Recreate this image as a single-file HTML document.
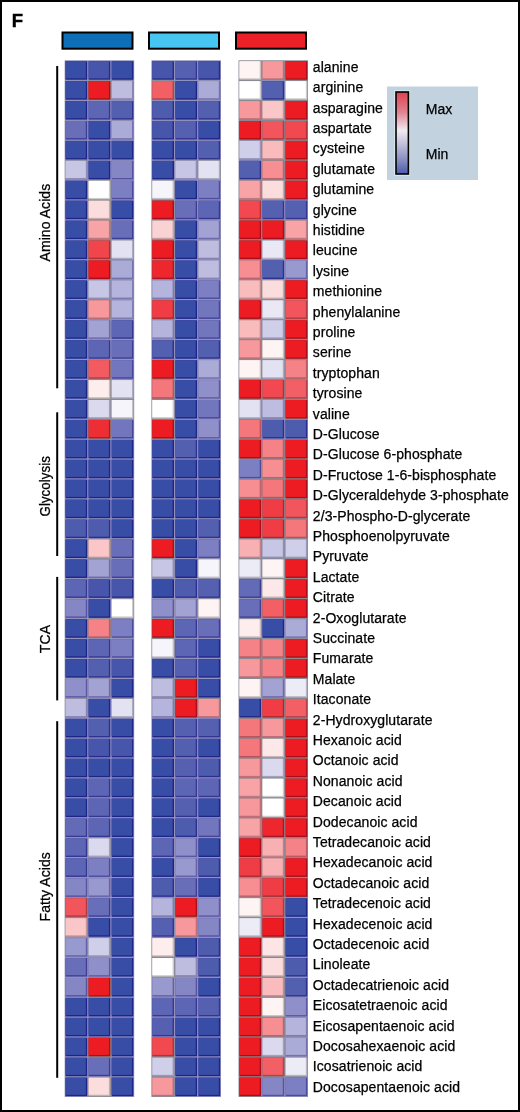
<!DOCTYPE html>
<html><head><meta charset="utf-8">
<style>
html,body{margin:0;padding:0;background:#fff;}
body{width:520px;height:1112px;overflow:hidden;position:relative;}
svg{position:absolute;left:0;top:0;will-change:transform;}
text{font-family:"Liberation Sans",sans-serif;letter-spacing:0.08px;}
</style></head>
<body>
<svg width="520" height="1112" viewBox="0 0 520 1112">
<defs>
<linearGradient id="lg" x1="0" y1="0" x2="0" y2="1">
<stop offset="0" stop-color="#e0404f"/>
<stop offset="0.25" stop-color="#de8592"/>
<stop offset="0.47" stop-color="#f1eaf1"/>
<stop offset="0.66" stop-color="#babad6"/>
<stop offset="0.85" stop-color="#8088bf"/>
<stop offset="1" stop-color="#4c5cae"/>
</linearGradient>
<filter id="soft" x="-2%" y="-1%" width="104%" height="102%"><feGaussianBlur stdDeviation="0.35"/></filter>
</defs>
<rect x="1" y="1" width="518" height="1110" fill="#fff" stroke="#000" stroke-width="2"/>
<text x="0" y="0" transform="translate(11.8,27)" style="font-size:18.5px;font-weight:700" fill="#000" stroke="#000" stroke-width="0.45">F</text>
<rect x="62.5" y="32.5" width="70" height="16.2" fill="#0f6fb6" stroke="#000" stroke-width="2"/>
<rect x="149" y="32.5" width="70" height="16.2" fill="#47c6f1" stroke="#000" stroke-width="2"/>
<rect x="236" y="32.5" width="70" height="16.2" fill="#ec2027" stroke="#000" stroke-width="2"/>
<g filter="url(#soft)">
<rect x="64.80" y="60.50" width="69.30" height="1036.36" fill="#9090a8"/>
<rect x="64.80" y="60.50" width="23.10" height="19.93" fill="#9491c4"/>
<rect x="65.50" y="61.20" width="21.70" height="18.53" fill="#1f2788"/>
<rect x="65.50" y="61.20" width="20.30" height="17.13" fill="#394ea6"/>
<rect x="87.90" y="60.50" width="23.10" height="19.93" fill="#9491c4"/>
<rect x="88.60" y="61.20" width="21.70" height="18.53" fill="#272c8c"/>
<rect x="88.60" y="61.20" width="20.30" height="17.13" fill="#4656ab"/>
<rect x="111.00" y="60.50" width="23.10" height="19.93" fill="#9491c4"/>
<rect x="111.70" y="61.20" width="21.70" height="18.53" fill="#1f2788"/>
<rect x="111.70" y="61.20" width="20.30" height="17.13" fill="#394ea6"/>
<rect x="64.80" y="80.43" width="23.10" height="19.93" fill="#9491c4"/>
<rect x="65.50" y="81.13" width="21.70" height="18.53" fill="#1f2788"/>
<rect x="65.50" y="81.13" width="20.30" height="17.13" fill="#394ea6"/>
<rect x="87.90" y="80.43" width="23.10" height="19.93" fill="#88888c"/>
<rect x="88.60" y="81.13" width="21.70" height="18.53" fill="#ab111a"/>
<rect x="88.60" y="81.13" width="20.30" height="17.13" fill="#ed1c24"/>
<rect x="111.00" y="80.43" width="23.10" height="19.93" fill="#8e8da9"/>
<rect x="111.70" y="81.13" width="21.70" height="18.53" fill="#8783b5"/>
<rect x="111.70" y="81.13" width="20.30" height="17.13" fill="#bebde0"/>
<rect x="64.80" y="100.36" width="23.10" height="19.93" fill="#9491c4"/>
<rect x="65.50" y="101.06" width="21.70" height="18.53" fill="#1f2788"/>
<rect x="65.50" y="101.06" width="20.30" height="17.13" fill="#394ea6"/>
<rect x="87.90" y="100.36" width="23.10" height="19.93" fill="#9491c4"/>
<rect x="88.60" y="101.06" width="21.70" height="18.53" fill="#363793"/>
<rect x="88.60" y="101.06" width="20.30" height="17.13" fill="#5d66b4"/>
<rect x="111.00" y="100.36" width="23.10" height="19.93" fill="#9491c4"/>
<rect x="111.70" y="101.06" width="21.70" height="18.53" fill="#2f328f"/>
<rect x="111.70" y="101.06" width="20.30" height="17.13" fill="#525eaf"/>
<rect x="64.80" y="120.29" width="23.10" height="19.93" fill="#9491c4"/>
<rect x="65.50" y="120.99" width="21.70" height="18.53" fill="#3e3e96"/>
<rect x="65.50" y="120.99" width="20.30" height="17.13" fill="#676eb8"/>
<rect x="87.90" y="120.29" width="23.10" height="19.93" fill="#9491c4"/>
<rect x="88.60" y="120.99" width="21.70" height="18.53" fill="#1f2788"/>
<rect x="88.60" y="120.99" width="20.30" height="17.13" fill="#394ea6"/>
<rect x="111.00" y="120.29" width="23.10" height="19.93" fill="#908eb2"/>
<rect x="111.70" y="120.99" width="21.70" height="18.53" fill="#7671ae"/>
<rect x="111.70" y="120.99" width="20.30" height="17.13" fill="#ababd7"/>
<rect x="64.80" y="140.22" width="23.10" height="19.93" fill="#9491c4"/>
<rect x="65.50" y="140.92" width="21.70" height="18.53" fill="#1f2788"/>
<rect x="65.50" y="140.92" width="20.30" height="17.13" fill="#394ea6"/>
<rect x="87.90" y="140.22" width="23.10" height="19.93" fill="#9491c4"/>
<rect x="88.60" y="140.92" width="21.70" height="18.53" fill="#1f2788"/>
<rect x="88.60" y="140.92" width="20.30" height="17.13" fill="#394ea6"/>
<rect x="111.00" y="140.22" width="23.10" height="19.93" fill="#9491c4"/>
<rect x="111.70" y="140.92" width="21.70" height="18.53" fill="#1f2788"/>
<rect x="111.70" y="140.92" width="20.30" height="17.13" fill="#394ea6"/>
<rect x="64.80" y="160.15" width="23.10" height="19.93" fill="#8d8ca5"/>
<rect x="65.50" y="160.85" width="21.70" height="18.53" fill="#908db8"/>
<rect x="65.50" y="160.85" width="20.30" height="17.13" fill="#c7c6e5"/>
<rect x="87.90" y="160.15" width="23.10" height="19.93" fill="#9491c4"/>
<rect x="88.60" y="160.85" width="21.70" height="18.53" fill="#1f2788"/>
<rect x="88.60" y="160.85" width="20.30" height="17.13" fill="#394ea6"/>
<rect x="111.00" y="160.15" width="23.10" height="19.93" fill="#9491c3"/>
<rect x="111.70" y="160.85" width="21.70" height="18.53" fill="#5552a1"/>
<rect x="111.70" y="160.85" width="20.30" height="17.13" fill="#8587c5"/>
<rect x="64.80" y="180.08" width="23.10" height="19.93" fill="#9491c4"/>
<rect x="65.50" y="180.78" width="21.70" height="18.53" fill="#1f2788"/>
<rect x="65.50" y="180.78" width="20.30" height="17.13" fill="#394ea6"/>
<rect x="87.90" y="180.08" width="23.10" height="19.93" fill="#88888c"/>
<rect x="88.60" y="180.78" width="21.70" height="18.53" fill="#cccccc"/>
<rect x="88.60" y="180.78" width="20.30" height="17.13" fill="#ffffff"/>
<rect x="111.00" y="180.08" width="23.10" height="19.93" fill="#9491c4"/>
<rect x="111.70" y="180.78" width="21.70" height="18.53" fill="#4d4b9d"/>
<rect x="111.70" y="180.78" width="20.30" height="17.13" fill="#7b7fc1"/>
<rect x="64.80" y="200.01" width="23.10" height="19.93" fill="#9491c4"/>
<rect x="65.50" y="200.71" width="21.70" height="18.53" fill="#1f2788"/>
<rect x="65.50" y="200.71" width="20.30" height="17.13" fill="#394ea6"/>
<rect x="87.90" y="200.01" width="23.10" height="19.93" fill="#88888c"/>
<rect x="88.60" y="200.71" width="21.70" height="18.53" fill="#c7abaf"/>
<rect x="88.60" y="200.71" width="20.30" height="17.13" fill="#fcddde"/>
<rect x="111.00" y="200.01" width="23.10" height="19.93" fill="#9491c4"/>
<rect x="111.70" y="200.71" width="21.70" height="18.53" fill="#1f2788"/>
<rect x="111.70" y="200.71" width="20.30" height="17.13" fill="#394ea6"/>
<rect x="64.80" y="219.94" width="23.10" height="19.93" fill="#9491c4"/>
<rect x="65.50" y="220.64" width="21.70" height="18.53" fill="#1f2788"/>
<rect x="65.50" y="220.64" width="20.30" height="17.13" fill="#394ea6"/>
<rect x="87.90" y="219.94" width="23.10" height="19.93" fill="#88888c"/>
<rect x="88.60" y="220.64" width="21.70" height="18.53" fill="#be7881"/>
<rect x="88.60" y="220.64" width="20.30" height="17.13" fill="#f8a4a7"/>
<rect x="111.00" y="219.94" width="23.10" height="19.93" fill="#9491c4"/>
<rect x="111.70" y="220.64" width="21.70" height="18.53" fill="#3e3e96"/>
<rect x="111.70" y="220.64" width="20.30" height="17.13" fill="#676eb8"/>
<rect x="64.80" y="239.87" width="23.10" height="19.93" fill="#9491c4"/>
<rect x="65.50" y="240.57" width="21.70" height="18.53" fill="#1f2788"/>
<rect x="65.50" y="240.57" width="20.30" height="17.13" fill="#394ea6"/>
<rect x="87.90" y="239.87" width="23.10" height="19.93" fill="#88888c"/>
<rect x="88.60" y="240.57" width="21.70" height="18.53" fill="#b02d37"/>
<rect x="88.60" y="240.57" width="20.30" height="17.13" fill="#f0454b"/>
<rect x="111.00" y="239.87" width="23.10" height="19.93" fill="#8b8a99"/>
<rect x="111.70" y="240.57" width="21.70" height="18.53" fill="#adabc2"/>
<rect x="111.70" y="240.57" width="20.30" height="17.13" fill="#e3e2f2"/>
<rect x="64.80" y="259.80" width="23.10" height="19.93" fill="#9491c4"/>
<rect x="65.50" y="260.50" width="21.70" height="18.53" fill="#1f2788"/>
<rect x="65.50" y="260.50" width="20.30" height="17.13" fill="#394ea6"/>
<rect x="87.90" y="259.80" width="23.10" height="19.93" fill="#88888c"/>
<rect x="88.60" y="260.50" width="21.70" height="18.53" fill="#ab111a"/>
<rect x="88.60" y="260.50" width="20.30" height="17.13" fill="#ed1c24"/>
<rect x="111.00" y="259.80" width="23.10" height="19.93" fill="#908eb2"/>
<rect x="111.70" y="260.50" width="21.70" height="18.53" fill="#7671ae"/>
<rect x="111.70" y="260.50" width="20.30" height="17.13" fill="#ababd7"/>
<rect x="64.80" y="279.73" width="23.10" height="19.93" fill="#9491c4"/>
<rect x="65.50" y="280.43" width="21.70" height="18.53" fill="#1f2788"/>
<rect x="65.50" y="280.43" width="20.30" height="17.13" fill="#394ea6"/>
<rect x="87.90" y="279.73" width="23.10" height="19.93" fill="#8d8ca5"/>
<rect x="88.60" y="280.43" width="21.70" height="18.53" fill="#908db8"/>
<rect x="88.60" y="280.43" width="20.30" height="17.13" fill="#c7c6e5"/>
<rect x="111.00" y="279.73" width="23.10" height="19.93" fill="#8f8dae"/>
<rect x="111.70" y="280.43" width="21.70" height="18.53" fill="#7e7ab2"/>
<rect x="111.70" y="280.43" width="20.30" height="17.13" fill="#b4b4dc"/>
<rect x="64.80" y="299.66" width="23.10" height="19.93" fill="#9491c4"/>
<rect x="65.50" y="300.36" width="21.70" height="18.53" fill="#1f2788"/>
<rect x="65.50" y="300.36" width="20.30" height="17.13" fill="#394ea6"/>
<rect x="87.90" y="299.66" width="23.10" height="19.93" fill="#88888c"/>
<rect x="88.60" y="300.36" width="21.70" height="18.53" fill="#bd6e78"/>
<rect x="88.60" y="300.36" width="20.30" height="17.13" fill="#f7999c"/>
<rect x="111.00" y="299.66" width="23.10" height="19.93" fill="#8f8dae"/>
<rect x="111.70" y="300.36" width="21.70" height="18.53" fill="#7e7ab2"/>
<rect x="111.70" y="300.36" width="20.30" height="17.13" fill="#b4b4dc"/>
<rect x="64.80" y="319.59" width="23.10" height="19.93" fill="#9491c4"/>
<rect x="65.50" y="320.29" width="21.70" height="18.53" fill="#1f2788"/>
<rect x="65.50" y="320.29" width="20.30" height="17.13" fill="#394ea6"/>
<rect x="87.90" y="319.59" width="23.10" height="19.93" fill="#918fb6"/>
<rect x="88.60" y="320.29" width="21.70" height="18.53" fill="#6d69ab"/>
<rect x="88.60" y="320.29" width="20.30" height="17.13" fill="#a2a2d3"/>
<rect x="111.00" y="319.59" width="23.10" height="19.93" fill="#9491c4"/>
<rect x="111.70" y="320.29" width="21.70" height="18.53" fill="#363793"/>
<rect x="111.70" y="320.29" width="20.30" height="17.13" fill="#5d66b4"/>
<rect x="64.80" y="339.52" width="23.10" height="19.93" fill="#9491c4"/>
<rect x="65.50" y="340.22" width="21.70" height="18.53" fill="#1f2788"/>
<rect x="65.50" y="340.22" width="20.30" height="17.13" fill="#394ea6"/>
<rect x="87.90" y="339.52" width="23.10" height="19.93" fill="#9491c4"/>
<rect x="88.60" y="340.22" width="21.70" height="18.53" fill="#363793"/>
<rect x="88.60" y="340.22" width="20.30" height="17.13" fill="#5d66b4"/>
<rect x="111.00" y="339.52" width="23.10" height="19.93" fill="#9491c4"/>
<rect x="111.70" y="340.22" width="21.70" height="18.53" fill="#3e3e96"/>
<rect x="111.70" y="340.22" width="20.30" height="17.13" fill="#676eb8"/>
<rect x="64.80" y="359.45" width="23.10" height="19.93" fill="#9491c4"/>
<rect x="65.50" y="360.15" width="21.70" height="18.53" fill="#1f2788"/>
<rect x="65.50" y="360.15" width="20.30" height="17.13" fill="#394ea6"/>
<rect x="87.90" y="359.45" width="23.10" height="19.93" fill="#88888c"/>
<rect x="88.60" y="360.15" width="21.70" height="18.53" fill="#b43d48"/>
<rect x="88.60" y="360.15" width="20.30" height="17.13" fill="#f25c61"/>
<rect x="111.00" y="359.45" width="23.10" height="19.93" fill="#9491c4"/>
<rect x="111.70" y="360.15" width="21.70" height="18.53" fill="#45449a"/>
<rect x="111.70" y="360.15" width="20.30" height="17.13" fill="#7176bd"/>
<rect x="64.80" y="379.38" width="23.10" height="19.93" fill="#9491c4"/>
<rect x="65.50" y="380.08" width="21.70" height="18.53" fill="#1f2788"/>
<rect x="65.50" y="380.08" width="20.30" height="17.13" fill="#394ea6"/>
<rect x="87.90" y="379.38" width="23.10" height="19.93" fill="#88888c"/>
<rect x="88.60" y="380.08" width="21.70" height="18.53" fill="#c9babc"/>
<rect x="88.60" y="380.08" width="20.30" height="17.13" fill="#feeded"/>
<rect x="111.00" y="379.38" width="23.10" height="19.93" fill="#8b8a99"/>
<rect x="111.70" y="380.08" width="21.70" height="18.53" fill="#adabc2"/>
<rect x="111.70" y="380.08" width="20.30" height="17.13" fill="#e3e2f2"/>
<rect x="64.80" y="399.31" width="23.10" height="19.93" fill="#9491c4"/>
<rect x="65.50" y="400.01" width="21.70" height="18.53" fill="#1f2788"/>
<rect x="65.50" y="400.01" width="20.30" height="17.13" fill="#394ea6"/>
<rect x="87.90" y="399.31" width="23.10" height="19.93" fill="#8c8b9d"/>
<rect x="88.60" y="400.01" width="21.70" height="18.53" fill="#a3a0bf"/>
<rect x="88.60" y="400.01" width="20.30" height="17.13" fill="#dad9ed"/>
<rect x="111.00" y="399.31" width="23.10" height="19.93" fill="#898990"/>
<rect x="111.70" y="400.01" width="21.70" height="18.53" fill="#c1c1c9"/>
<rect x="111.70" y="400.01" width="20.30" height="17.13" fill="#f6f5fb"/>
<rect x="64.80" y="419.24" width="23.10" height="19.93" fill="#9491c4"/>
<rect x="65.50" y="419.94" width="21.70" height="18.53" fill="#1f2788"/>
<rect x="65.50" y="419.94" width="20.30" height="17.13" fill="#394ea6"/>
<rect x="87.90" y="419.24" width="23.10" height="19.93" fill="#88888c"/>
<rect x="88.60" y="419.94" width="21.70" height="18.53" fill="#ad1d27"/>
<rect x="88.60" y="419.94" width="20.30" height="17.13" fill="#ee2e36"/>
<rect x="111.00" y="419.24" width="23.10" height="19.93" fill="#9491c4"/>
<rect x="111.70" y="419.94" width="21.70" height="18.53" fill="#45449a"/>
<rect x="111.70" y="419.94" width="20.30" height="17.13" fill="#7176bd"/>
<rect x="64.80" y="439.17" width="23.10" height="19.93" fill="#9491c4"/>
<rect x="65.50" y="439.87" width="21.70" height="18.53" fill="#1f2788"/>
<rect x="65.50" y="439.87" width="20.30" height="17.13" fill="#394ea6"/>
<rect x="87.90" y="439.17" width="23.10" height="19.93" fill="#9491c4"/>
<rect x="88.60" y="439.87" width="21.70" height="18.53" fill="#1f2788"/>
<rect x="88.60" y="439.87" width="20.30" height="17.13" fill="#394ea6"/>
<rect x="111.00" y="439.17" width="23.10" height="19.93" fill="#9491c4"/>
<rect x="111.70" y="439.87" width="21.70" height="18.53" fill="#1f2788"/>
<rect x="111.70" y="439.87" width="20.30" height="17.13" fill="#394ea6"/>
<rect x="64.80" y="459.10" width="23.10" height="19.93" fill="#9491c4"/>
<rect x="65.50" y="459.80" width="21.70" height="18.53" fill="#1f2788"/>
<rect x="65.50" y="459.80" width="20.30" height="17.13" fill="#394ea6"/>
<rect x="87.90" y="459.10" width="23.10" height="19.93" fill="#9491c4"/>
<rect x="88.60" y="459.80" width="21.70" height="18.53" fill="#1f2788"/>
<rect x="88.60" y="459.80" width="20.30" height="17.13" fill="#394ea6"/>
<rect x="111.00" y="459.10" width="23.10" height="19.93" fill="#9491c4"/>
<rect x="111.70" y="459.80" width="21.70" height="18.53" fill="#1f2788"/>
<rect x="111.70" y="459.80" width="20.30" height="17.13" fill="#394ea6"/>
<rect x="64.80" y="479.03" width="23.10" height="19.93" fill="#9491c4"/>
<rect x="65.50" y="479.73" width="21.70" height="18.53" fill="#1f2788"/>
<rect x="65.50" y="479.73" width="20.30" height="17.13" fill="#394ea6"/>
<rect x="87.90" y="479.03" width="23.10" height="19.93" fill="#9491c4"/>
<rect x="88.60" y="479.73" width="21.70" height="18.53" fill="#1f2788"/>
<rect x="88.60" y="479.73" width="20.30" height="17.13" fill="#394ea6"/>
<rect x="111.00" y="479.03" width="23.10" height="19.93" fill="#9491c4"/>
<rect x="111.70" y="479.73" width="21.70" height="18.53" fill="#1f2788"/>
<rect x="111.70" y="479.73" width="20.30" height="17.13" fill="#394ea6"/>
<rect x="64.80" y="498.96" width="23.10" height="19.93" fill="#9491c4"/>
<rect x="65.50" y="499.66" width="21.70" height="18.53" fill="#1f2788"/>
<rect x="65.50" y="499.66" width="20.30" height="17.13" fill="#394ea6"/>
<rect x="87.90" y="498.96" width="23.10" height="19.93" fill="#9491c4"/>
<rect x="88.60" y="499.66" width="21.70" height="18.53" fill="#1f2788"/>
<rect x="88.60" y="499.66" width="20.30" height="17.13" fill="#394ea6"/>
<rect x="111.00" y="498.96" width="23.10" height="19.93" fill="#9491c4"/>
<rect x="111.70" y="499.66" width="21.70" height="18.53" fill="#1f2788"/>
<rect x="111.70" y="499.66" width="20.30" height="17.13" fill="#394ea6"/>
<rect x="64.80" y="518.89" width="23.10" height="19.93" fill="#9491c4"/>
<rect x="65.50" y="519.59" width="21.70" height="18.53" fill="#2c2f8e"/>
<rect x="65.50" y="519.59" width="20.30" height="17.13" fill="#4d5bad"/>
<rect x="87.90" y="518.89" width="23.10" height="19.93" fill="#9491c4"/>
<rect x="88.60" y="519.59" width="21.70" height="18.53" fill="#2c2f8e"/>
<rect x="88.60" y="519.59" width="20.30" height="17.13" fill="#4d5bad"/>
<rect x="111.00" y="518.89" width="23.10" height="19.93" fill="#9491c4"/>
<rect x="111.70" y="519.59" width="21.70" height="18.53" fill="#1f2788"/>
<rect x="111.70" y="519.59" width="20.30" height="17.13" fill="#394ea6"/>
<rect x="64.80" y="538.82" width="23.10" height="19.93" fill="#9491c4"/>
<rect x="65.50" y="539.52" width="21.70" height="18.53" fill="#1f2788"/>
<rect x="65.50" y="539.52" width="20.30" height="17.13" fill="#394ea6"/>
<rect x="87.90" y="538.82" width="23.10" height="19.93" fill="#88888c"/>
<rect x="88.60" y="539.52" width="21.70" height="18.53" fill="#c3969c"/>
<rect x="88.60" y="539.52" width="20.30" height="17.13" fill="#fac6c8"/>
<rect x="111.00" y="538.82" width="23.10" height="19.93" fill="#9491c4"/>
<rect x="111.70" y="539.52" width="21.70" height="18.53" fill="#3e3e96"/>
<rect x="111.70" y="539.52" width="20.30" height="17.13" fill="#676eb8"/>
<rect x="64.80" y="558.75" width="23.10" height="19.93" fill="#9491c4"/>
<rect x="65.50" y="559.45" width="21.70" height="18.53" fill="#1f2788"/>
<rect x="65.50" y="559.45" width="20.30" height="17.13" fill="#394ea6"/>
<rect x="87.90" y="558.75" width="23.10" height="19.93" fill="#918fb6"/>
<rect x="88.60" y="559.45" width="21.70" height="18.53" fill="#6d69ab"/>
<rect x="88.60" y="559.45" width="20.30" height="17.13" fill="#a2a2d3"/>
<rect x="111.00" y="558.75" width="23.10" height="19.93" fill="#9491c4"/>
<rect x="111.70" y="559.45" width="21.70" height="18.53" fill="#3e3e96"/>
<rect x="111.70" y="559.45" width="20.30" height="17.13" fill="#676eb8"/>
<rect x="64.80" y="578.68" width="23.10" height="19.93" fill="#9491c4"/>
<rect x="65.50" y="579.38" width="21.70" height="18.53" fill="#363793"/>
<rect x="65.50" y="579.38" width="20.30" height="17.13" fill="#5d66b4"/>
<rect x="87.90" y="578.68" width="23.10" height="19.93" fill="#9491c4"/>
<rect x="88.60" y="579.38" width="21.70" height="18.53" fill="#272c8c"/>
<rect x="88.60" y="579.38" width="20.30" height="17.13" fill="#4656ab"/>
<rect x="111.00" y="578.68" width="23.10" height="19.93" fill="#9491c4"/>
<rect x="111.70" y="579.38" width="21.70" height="18.53" fill="#272c8c"/>
<rect x="111.70" y="579.38" width="20.30" height="17.13" fill="#4656ab"/>
<rect x="64.80" y="598.61" width="23.10" height="19.93" fill="#9491c3"/>
<rect x="65.50" y="599.31" width="21.70" height="18.53" fill="#5552a1"/>
<rect x="65.50" y="599.31" width="20.30" height="17.13" fill="#8587c5"/>
<rect x="87.90" y="598.61" width="23.10" height="19.93" fill="#9491c4"/>
<rect x="88.60" y="599.31" width="21.70" height="18.53" fill="#1f2788"/>
<rect x="88.60" y="599.31" width="20.30" height="17.13" fill="#394ea6"/>
<rect x="111.00" y="598.61" width="23.10" height="19.93" fill="#88888c"/>
<rect x="111.70" y="599.31" width="21.70" height="18.53" fill="#cccccc"/>
<rect x="111.70" y="599.31" width="20.30" height="17.13" fill="#ffffff"/>
<rect x="64.80" y="618.54" width="23.10" height="19.93" fill="#9491c4"/>
<rect x="65.50" y="619.24" width="21.70" height="18.53" fill="#1f2788"/>
<rect x="65.50" y="619.24" width="20.30" height="17.13" fill="#394ea6"/>
<rect x="87.90" y="618.54" width="23.10" height="19.93" fill="#88888c"/>
<rect x="88.60" y="619.24" width="21.70" height="18.53" fill="#b95b66"/>
<rect x="88.60" y="619.24" width="20.30" height="17.13" fill="#f58287"/>
<rect x="111.00" y="618.54" width="23.10" height="19.93" fill="#9491c4"/>
<rect x="111.70" y="619.24" width="21.70" height="18.53" fill="#4d4b9d"/>
<rect x="111.70" y="619.24" width="20.30" height="17.13" fill="#7b7fc1"/>
<rect x="64.80" y="638.47" width="23.10" height="19.93" fill="#9491c4"/>
<rect x="65.50" y="639.17" width="21.70" height="18.53" fill="#1f2788"/>
<rect x="65.50" y="639.17" width="20.30" height="17.13" fill="#394ea6"/>
<rect x="87.90" y="638.47" width="23.10" height="19.93" fill="#9491c4"/>
<rect x="88.60" y="639.17" width="21.70" height="18.53" fill="#363793"/>
<rect x="88.60" y="639.17" width="20.30" height="17.13" fill="#5d66b4"/>
<rect x="111.00" y="638.47" width="23.10" height="19.93" fill="#9491c4"/>
<rect x="111.70" y="639.17" width="21.70" height="18.53" fill="#4d4b9d"/>
<rect x="111.70" y="639.17" width="20.30" height="17.13" fill="#7b7fc1"/>
<rect x="64.80" y="658.40" width="23.10" height="19.93" fill="#9491c4"/>
<rect x="65.50" y="659.10" width="21.70" height="18.53" fill="#1f2788"/>
<rect x="65.50" y="659.10" width="20.30" height="17.13" fill="#394ea6"/>
<rect x="87.90" y="658.40" width="23.10" height="19.93" fill="#9491c4"/>
<rect x="88.60" y="659.10" width="21.70" height="18.53" fill="#2f328f"/>
<rect x="88.60" y="659.10" width="20.30" height="17.13" fill="#525eaf"/>
<rect x="111.00" y="658.40" width="23.10" height="19.93" fill="#9491c4"/>
<rect x="111.70" y="659.10" width="21.70" height="18.53" fill="#272c8c"/>
<rect x="111.70" y="659.10" width="20.30" height="17.13" fill="#4656ab"/>
<rect x="64.80" y="678.33" width="23.10" height="19.93" fill="#9390be"/>
<rect x="65.50" y="679.03" width="21.70" height="18.53" fill="#5d59a4"/>
<rect x="65.50" y="679.03" width="20.30" height="17.13" fill="#8f90ca"/>
<rect x="87.90" y="678.33" width="23.10" height="19.93" fill="#918fb6"/>
<rect x="88.60" y="679.03" width="21.70" height="18.53" fill="#6d69ab"/>
<rect x="88.60" y="679.03" width="20.30" height="17.13" fill="#a2a2d3"/>
<rect x="111.00" y="678.33" width="23.10" height="19.93" fill="#9491c4"/>
<rect x="111.70" y="679.03" width="21.70" height="18.53" fill="#1f2788"/>
<rect x="111.70" y="679.03" width="20.30" height="17.13" fill="#394ea6"/>
<rect x="64.80" y="698.26" width="23.10" height="19.93" fill="#8e8da9"/>
<rect x="65.50" y="698.96" width="21.70" height="18.53" fill="#8783b5"/>
<rect x="65.50" y="698.96" width="20.30" height="17.13" fill="#bebde0"/>
<rect x="87.90" y="698.26" width="23.10" height="19.93" fill="#9491c4"/>
<rect x="88.60" y="698.96" width="21.70" height="18.53" fill="#1f2788"/>
<rect x="88.60" y="698.96" width="20.30" height="17.13" fill="#394ea6"/>
<rect x="111.00" y="698.26" width="23.10" height="19.93" fill="#8b8a99"/>
<rect x="111.70" y="698.96" width="21.70" height="18.53" fill="#adabc2"/>
<rect x="111.70" y="698.96" width="20.30" height="17.13" fill="#e3e2f2"/>
<rect x="64.80" y="718.19" width="23.10" height="19.93" fill="#9491c4"/>
<rect x="65.50" y="718.89" width="21.70" height="18.53" fill="#1f2788"/>
<rect x="65.50" y="718.89" width="20.30" height="17.13" fill="#394ea6"/>
<rect x="87.90" y="718.19" width="23.10" height="19.93" fill="#9491c4"/>
<rect x="88.60" y="718.89" width="21.70" height="18.53" fill="#2f328f"/>
<rect x="88.60" y="718.89" width="20.30" height="17.13" fill="#525eaf"/>
<rect x="111.00" y="718.19" width="23.10" height="19.93" fill="#9491c4"/>
<rect x="111.70" y="718.89" width="21.70" height="18.53" fill="#1f2788"/>
<rect x="111.70" y="718.89" width="20.30" height="17.13" fill="#394ea6"/>
<rect x="64.80" y="738.12" width="23.10" height="19.93" fill="#9491c4"/>
<rect x="65.50" y="738.82" width="21.70" height="18.53" fill="#1f2788"/>
<rect x="65.50" y="738.82" width="20.30" height="17.13" fill="#394ea6"/>
<rect x="87.90" y="738.12" width="23.10" height="19.93" fill="#9491c4"/>
<rect x="88.60" y="738.82" width="21.70" height="18.53" fill="#272c8c"/>
<rect x="88.60" y="738.82" width="20.30" height="17.13" fill="#4656ab"/>
<rect x="111.00" y="738.12" width="23.10" height="19.93" fill="#9491c4"/>
<rect x="111.70" y="738.82" width="21.70" height="18.53" fill="#272c8c"/>
<rect x="111.70" y="738.82" width="20.30" height="17.13" fill="#4656ab"/>
<rect x="64.80" y="758.05" width="23.10" height="19.93" fill="#9491c4"/>
<rect x="65.50" y="758.75" width="21.70" height="18.53" fill="#1f2788"/>
<rect x="65.50" y="758.75" width="20.30" height="17.13" fill="#394ea6"/>
<rect x="87.90" y="758.05" width="23.10" height="19.93" fill="#9491c4"/>
<rect x="88.60" y="758.75" width="21.70" height="18.53" fill="#1f2788"/>
<rect x="88.60" y="758.75" width="20.30" height="17.13" fill="#394ea6"/>
<rect x="111.00" y="758.05" width="23.10" height="19.93" fill="#9491c4"/>
<rect x="111.70" y="758.75" width="21.70" height="18.53" fill="#1f2788"/>
<rect x="111.70" y="758.75" width="20.30" height="17.13" fill="#394ea6"/>
<rect x="64.80" y="777.98" width="23.10" height="19.93" fill="#9491c4"/>
<rect x="65.50" y="778.68" width="21.70" height="18.53" fill="#1f2788"/>
<rect x="65.50" y="778.68" width="20.30" height="17.13" fill="#394ea6"/>
<rect x="87.90" y="777.98" width="23.10" height="19.93" fill="#9491c4"/>
<rect x="88.60" y="778.68" width="21.70" height="18.53" fill="#363793"/>
<rect x="88.60" y="778.68" width="20.30" height="17.13" fill="#5d66b4"/>
<rect x="111.00" y="777.98" width="23.10" height="19.93" fill="#9491c4"/>
<rect x="111.70" y="778.68" width="21.70" height="18.53" fill="#1f2788"/>
<rect x="111.70" y="778.68" width="20.30" height="17.13" fill="#394ea6"/>
<rect x="64.80" y="797.91" width="23.10" height="19.93" fill="#9491c4"/>
<rect x="65.50" y="798.61" width="21.70" height="18.53" fill="#1f2788"/>
<rect x="65.50" y="798.61" width="20.30" height="17.13" fill="#394ea6"/>
<rect x="87.90" y="797.91" width="23.10" height="19.93" fill="#9491c4"/>
<rect x="88.60" y="798.61" width="21.70" height="18.53" fill="#363793"/>
<rect x="88.60" y="798.61" width="20.30" height="17.13" fill="#5d66b4"/>
<rect x="111.00" y="797.91" width="23.10" height="19.93" fill="#9491c4"/>
<rect x="111.70" y="798.61" width="21.70" height="18.53" fill="#1f2788"/>
<rect x="111.70" y="798.61" width="20.30" height="17.13" fill="#394ea6"/>
<rect x="64.80" y="817.84" width="23.10" height="19.93" fill="#9491c4"/>
<rect x="65.50" y="818.54" width="21.70" height="18.53" fill="#3b3b95"/>
<rect x="65.50" y="818.54" width="20.30" height="17.13" fill="#636bb6"/>
<rect x="87.90" y="817.84" width="23.10" height="19.93" fill="#9491c4"/>
<rect x="88.60" y="818.54" width="21.70" height="18.53" fill="#363793"/>
<rect x="88.60" y="818.54" width="20.30" height="17.13" fill="#5d66b4"/>
<rect x="111.00" y="817.84" width="23.10" height="19.93" fill="#9491c4"/>
<rect x="111.70" y="818.54" width="21.70" height="18.53" fill="#1f2788"/>
<rect x="111.70" y="818.54" width="20.30" height="17.13" fill="#394ea6"/>
<rect x="64.80" y="837.77" width="23.10" height="19.93" fill="#9491c4"/>
<rect x="65.50" y="838.47" width="21.70" height="18.53" fill="#363793"/>
<rect x="65.50" y="838.47" width="20.30" height="17.13" fill="#5d66b4"/>
<rect x="87.90" y="837.77" width="23.10" height="19.93" fill="#8c8b9d"/>
<rect x="88.60" y="838.47" width="21.70" height="18.53" fill="#a3a0bf"/>
<rect x="88.60" y="838.47" width="20.30" height="17.13" fill="#dad9ed"/>
<rect x="111.00" y="837.77" width="23.10" height="19.93" fill="#9491c4"/>
<rect x="111.70" y="838.47" width="21.70" height="18.53" fill="#1f2788"/>
<rect x="111.70" y="838.47" width="20.30" height="17.13" fill="#394ea6"/>
<rect x="64.80" y="857.70" width="23.10" height="19.93" fill="#9491c4"/>
<rect x="65.50" y="858.40" width="21.70" height="18.53" fill="#363793"/>
<rect x="65.50" y="858.40" width="20.30" height="17.13" fill="#5d66b4"/>
<rect x="87.90" y="857.70" width="23.10" height="19.93" fill="#9491c4"/>
<rect x="88.60" y="858.40" width="21.70" height="18.53" fill="#4d4b9d"/>
<rect x="88.60" y="858.40" width="20.30" height="17.13" fill="#7b7fc1"/>
<rect x="111.00" y="857.70" width="23.10" height="19.93" fill="#9491c4"/>
<rect x="111.70" y="858.40" width="21.70" height="18.53" fill="#1f2788"/>
<rect x="111.70" y="858.40" width="20.30" height="17.13" fill="#394ea6"/>
<rect x="64.80" y="877.63" width="23.10" height="19.93" fill="#9491c3"/>
<rect x="65.50" y="878.33" width="21.70" height="18.53" fill="#5552a1"/>
<rect x="65.50" y="878.33" width="20.30" height="17.13" fill="#8587c5"/>
<rect x="87.90" y="877.63" width="23.10" height="19.93" fill="#928fba"/>
<rect x="88.60" y="878.33" width="21.70" height="18.53" fill="#6561a7"/>
<rect x="88.60" y="878.33" width="20.30" height="17.13" fill="#9899ce"/>
<rect x="111.00" y="877.63" width="23.10" height="19.93" fill="#9491c4"/>
<rect x="111.70" y="878.33" width="21.70" height="18.53" fill="#1f2788"/>
<rect x="111.70" y="878.33" width="20.30" height="17.13" fill="#394ea6"/>
<rect x="64.80" y="897.56" width="23.10" height="19.93" fill="#88888c"/>
<rect x="65.50" y="898.26" width="21.70" height="18.53" fill="#b33843"/>
<rect x="65.50" y="898.26" width="20.30" height="17.13" fill="#f2555b"/>
<rect x="87.90" y="897.56" width="23.10" height="19.93" fill="#9491c4"/>
<rect x="88.60" y="898.26" width="21.70" height="18.53" fill="#3e3e96"/>
<rect x="88.60" y="898.26" width="20.30" height="17.13" fill="#676eb8"/>
<rect x="111.00" y="897.56" width="23.10" height="19.93" fill="#9491c4"/>
<rect x="111.70" y="898.26" width="21.70" height="18.53" fill="#1f2788"/>
<rect x="111.70" y="898.26" width="20.30" height="17.13" fill="#394ea6"/>
<rect x="64.80" y="917.49" width="23.10" height="19.93" fill="#88888c"/>
<rect x="65.50" y="918.19" width="21.70" height="18.53" fill="#c3969c"/>
<rect x="65.50" y="918.19" width="20.30" height="17.13" fill="#fac6c8"/>
<rect x="87.90" y="917.49" width="23.10" height="19.93" fill="#9491c4"/>
<rect x="88.60" y="918.19" width="21.70" height="18.53" fill="#1f2788"/>
<rect x="88.60" y="918.19" width="20.30" height="17.13" fill="#394ea6"/>
<rect x="111.00" y="917.49" width="23.10" height="19.93" fill="#9491c4"/>
<rect x="111.70" y="918.19" width="21.70" height="18.53" fill="#1f2788"/>
<rect x="111.70" y="918.19" width="20.30" height="17.13" fill="#394ea6"/>
<rect x="64.80" y="937.42" width="23.10" height="19.93" fill="#928fba"/>
<rect x="65.50" y="938.12" width="21.70" height="18.53" fill="#6561a7"/>
<rect x="65.50" y="938.12" width="20.30" height="17.13" fill="#9899ce"/>
<rect x="87.90" y="937.42" width="23.10" height="19.93" fill="#8c8ba1"/>
<rect x="88.60" y="938.12" width="21.70" height="18.53" fill="#9a96bc"/>
<rect x="88.60" y="938.12" width="20.30" height="17.13" fill="#d0cfe9"/>
<rect x="111.00" y="937.42" width="23.10" height="19.93" fill="#9491c4"/>
<rect x="111.70" y="938.12" width="21.70" height="18.53" fill="#1f2788"/>
<rect x="111.70" y="938.12" width="20.30" height="17.13" fill="#394ea6"/>
<rect x="64.80" y="957.35" width="23.10" height="19.93" fill="#9491c4"/>
<rect x="65.50" y="958.05" width="21.70" height="18.53" fill="#3e3e96"/>
<rect x="65.50" y="958.05" width="20.30" height="17.13" fill="#676eb8"/>
<rect x="87.90" y="957.35" width="23.10" height="19.93" fill="#9390be"/>
<rect x="88.60" y="958.05" width="21.70" height="18.53" fill="#5d59a4"/>
<rect x="88.60" y="958.05" width="20.30" height="17.13" fill="#8f90ca"/>
<rect x="111.00" y="957.35" width="23.10" height="19.93" fill="#9491c4"/>
<rect x="111.70" y="958.05" width="21.70" height="18.53" fill="#1f2788"/>
<rect x="111.70" y="958.05" width="20.30" height="17.13" fill="#394ea6"/>
<rect x="64.80" y="977.28" width="23.10" height="19.93" fill="#9491c3"/>
<rect x="65.50" y="977.98" width="21.70" height="18.53" fill="#5552a1"/>
<rect x="65.50" y="977.98" width="20.30" height="17.13" fill="#8587c5"/>
<rect x="87.90" y="977.28" width="23.10" height="19.93" fill="#88888c"/>
<rect x="88.60" y="977.98" width="21.70" height="18.53" fill="#ab111a"/>
<rect x="88.60" y="977.98" width="20.30" height="17.13" fill="#ed1c24"/>
<rect x="111.00" y="977.28" width="23.10" height="19.93" fill="#9491c4"/>
<rect x="111.70" y="977.98" width="21.70" height="18.53" fill="#1f2788"/>
<rect x="111.70" y="977.98" width="20.30" height="17.13" fill="#394ea6"/>
<rect x="64.80" y="997.21" width="23.10" height="19.93" fill="#9491c4"/>
<rect x="65.50" y="997.91" width="21.70" height="18.53" fill="#1f2788"/>
<rect x="65.50" y="997.91" width="20.30" height="17.13" fill="#394ea6"/>
<rect x="87.90" y="997.21" width="23.10" height="19.93" fill="#9491c4"/>
<rect x="88.60" y="997.91" width="21.70" height="18.53" fill="#1f2788"/>
<rect x="88.60" y="997.91" width="20.30" height="17.13" fill="#394ea6"/>
<rect x="111.00" y="997.21" width="23.10" height="19.93" fill="#9491c4"/>
<rect x="111.70" y="997.91" width="21.70" height="18.53" fill="#1f2788"/>
<rect x="111.70" y="997.91" width="20.30" height="17.13" fill="#394ea6"/>
<rect x="64.80" y="1017.14" width="23.10" height="19.93" fill="#9491c4"/>
<rect x="65.50" y="1017.84" width="21.70" height="18.53" fill="#1f2788"/>
<rect x="65.50" y="1017.84" width="20.30" height="17.13" fill="#394ea6"/>
<rect x="87.90" y="1017.14" width="23.10" height="19.93" fill="#9491c4"/>
<rect x="88.60" y="1017.84" width="21.70" height="18.53" fill="#1f2788"/>
<rect x="88.60" y="1017.84" width="20.30" height="17.13" fill="#394ea6"/>
<rect x="111.00" y="1017.14" width="23.10" height="19.93" fill="#9491c4"/>
<rect x="111.70" y="1017.84" width="21.70" height="18.53" fill="#1f2788"/>
<rect x="111.70" y="1017.84" width="20.30" height="17.13" fill="#394ea6"/>
<rect x="64.80" y="1037.07" width="23.10" height="19.93" fill="#9491c4"/>
<rect x="65.50" y="1037.77" width="21.70" height="18.53" fill="#1f2788"/>
<rect x="65.50" y="1037.77" width="20.30" height="17.13" fill="#394ea6"/>
<rect x="87.90" y="1037.07" width="23.10" height="19.93" fill="#88888c"/>
<rect x="88.60" y="1037.77" width="21.70" height="18.53" fill="#ab111a"/>
<rect x="88.60" y="1037.77" width="20.30" height="17.13" fill="#ed1c24"/>
<rect x="111.00" y="1037.07" width="23.10" height="19.93" fill="#9491c4"/>
<rect x="111.70" y="1037.77" width="21.70" height="18.53" fill="#1f2788"/>
<rect x="111.70" y="1037.77" width="20.30" height="17.13" fill="#394ea6"/>
<rect x="64.80" y="1057.00" width="23.10" height="19.93" fill="#9491c4"/>
<rect x="65.50" y="1057.70" width="21.70" height="18.53" fill="#1f2788"/>
<rect x="65.50" y="1057.70" width="20.30" height="17.13" fill="#394ea6"/>
<rect x="87.90" y="1057.00" width="23.10" height="19.93" fill="#9491c4"/>
<rect x="88.60" y="1057.70" width="21.70" height="18.53" fill="#3e3e96"/>
<rect x="88.60" y="1057.70" width="20.30" height="17.13" fill="#676eb8"/>
<rect x="111.00" y="1057.00" width="23.10" height="19.93" fill="#9491c4"/>
<rect x="111.70" y="1057.70" width="21.70" height="18.53" fill="#1f2788"/>
<rect x="111.70" y="1057.70" width="20.30" height="17.13" fill="#394ea6"/>
<rect x="64.80" y="1076.93" width="23.10" height="19.93" fill="#9491c4"/>
<rect x="65.50" y="1077.63" width="21.70" height="18.53" fill="#1f2788"/>
<rect x="65.50" y="1077.63" width="20.30" height="17.13" fill="#394ea6"/>
<rect x="87.90" y="1076.93" width="23.10" height="19.93" fill="#88888c"/>
<rect x="88.60" y="1077.63" width="21.70" height="18.53" fill="#c7abaf"/>
<rect x="88.60" y="1077.63" width="20.30" height="17.13" fill="#fcddde"/>
<rect x="111.00" y="1076.93" width="23.10" height="19.93" fill="#9491c4"/>
<rect x="111.70" y="1077.63" width="21.70" height="18.53" fill="#1f2788"/>
<rect x="111.70" y="1077.63" width="20.30" height="17.13" fill="#394ea6"/>
<rect x="151.60" y="60.50" width="69.30" height="1036.36" fill="#9090a8"/>
<rect x="151.60" y="60.50" width="23.10" height="19.93" fill="#9491c4"/>
<rect x="152.30" y="61.20" width="21.70" height="18.53" fill="#272c8c"/>
<rect x="152.30" y="61.20" width="20.30" height="17.13" fill="#4656ab"/>
<rect x="174.70" y="60.50" width="23.10" height="19.93" fill="#9491c4"/>
<rect x="175.40" y="61.20" width="21.70" height="18.53" fill="#323491"/>
<rect x="175.40" y="61.20" width="20.30" height="17.13" fill="#5661b1"/>
<rect x="197.80" y="60.50" width="23.10" height="19.93" fill="#9491c4"/>
<rect x="198.50" y="61.20" width="21.70" height="18.53" fill="#272c8c"/>
<rect x="198.50" y="61.20" width="20.30" height="17.13" fill="#4656ab"/>
<rect x="151.60" y="80.43" width="23.10" height="19.93" fill="#88888c"/>
<rect x="152.30" y="81.13" width="21.70" height="18.53" fill="#b4414c"/>
<rect x="152.30" y="81.13" width="20.30" height="17.13" fill="#f26066"/>
<rect x="174.70" y="80.43" width="23.10" height="19.93" fill="#9491c4"/>
<rect x="175.40" y="81.13" width="21.70" height="18.53" fill="#1f2788"/>
<rect x="175.40" y="81.13" width="20.30" height="17.13" fill="#394ea6"/>
<rect x="197.80" y="80.43" width="23.10" height="19.93" fill="#908eb2"/>
<rect x="198.50" y="81.13" width="21.70" height="18.53" fill="#7671ae"/>
<rect x="198.50" y="81.13" width="20.30" height="17.13" fill="#ababd7"/>
<rect x="151.60" y="100.36" width="23.10" height="19.93" fill="#9491c4"/>
<rect x="152.30" y="101.06" width="21.70" height="18.53" fill="#2c2f8e"/>
<rect x="152.30" y="101.06" width="20.30" height="17.13" fill="#4d5bad"/>
<rect x="174.70" y="100.36" width="23.10" height="19.93" fill="#9491c4"/>
<rect x="175.40" y="101.06" width="21.70" height="18.53" fill="#1f2788"/>
<rect x="175.40" y="101.06" width="20.30" height="17.13" fill="#394ea6"/>
<rect x="197.80" y="100.36" width="23.10" height="19.93" fill="#9491c4"/>
<rect x="198.50" y="101.06" width="21.70" height="18.53" fill="#2f328f"/>
<rect x="198.50" y="101.06" width="20.30" height="17.13" fill="#525eaf"/>
<rect x="151.60" y="120.29" width="23.10" height="19.93" fill="#9491c4"/>
<rect x="152.30" y="120.99" width="21.70" height="18.53" fill="#272c8c"/>
<rect x="152.30" y="120.99" width="20.30" height="17.13" fill="#4656ab"/>
<rect x="174.70" y="120.29" width="23.10" height="19.93" fill="#9491c4"/>
<rect x="175.40" y="120.99" width="21.70" height="18.53" fill="#323491"/>
<rect x="175.40" y="120.99" width="20.30" height="17.13" fill="#5661b1"/>
<rect x="197.80" y="120.29" width="23.10" height="19.93" fill="#9491c4"/>
<rect x="198.50" y="120.99" width="21.70" height="18.53" fill="#1f2788"/>
<rect x="198.50" y="120.99" width="20.30" height="17.13" fill="#394ea6"/>
<rect x="151.60" y="140.22" width="23.10" height="19.93" fill="#9491c4"/>
<rect x="152.30" y="140.92" width="21.70" height="18.53" fill="#1f2788"/>
<rect x="152.30" y="140.92" width="20.30" height="17.13" fill="#394ea6"/>
<rect x="174.70" y="140.22" width="23.10" height="19.93" fill="#9491c4"/>
<rect x="175.40" y="140.92" width="21.70" height="18.53" fill="#1f2788"/>
<rect x="175.40" y="140.92" width="20.30" height="17.13" fill="#394ea6"/>
<rect x="197.80" y="140.22" width="23.10" height="19.93" fill="#9491c4"/>
<rect x="198.50" y="140.92" width="21.70" height="18.53" fill="#2f328f"/>
<rect x="198.50" y="140.92" width="20.30" height="17.13" fill="#525eaf"/>
<rect x="151.60" y="160.15" width="23.10" height="19.93" fill="#9491c4"/>
<rect x="152.30" y="160.85" width="21.70" height="18.53" fill="#1f2788"/>
<rect x="152.30" y="160.85" width="20.30" height="17.13" fill="#394ea6"/>
<rect x="174.70" y="160.15" width="23.10" height="19.93" fill="#8d8ca5"/>
<rect x="175.40" y="160.85" width="21.70" height="18.53" fill="#908db8"/>
<rect x="175.40" y="160.85" width="20.30" height="17.13" fill="#c7c6e5"/>
<rect x="197.80" y="160.15" width="23.10" height="19.93" fill="#8b8a99"/>
<rect x="198.50" y="160.85" width="21.70" height="18.53" fill="#adabc2"/>
<rect x="198.50" y="160.85" width="20.30" height="17.13" fill="#e3e2f2"/>
<rect x="151.60" y="180.08" width="23.10" height="19.93" fill="#898990"/>
<rect x="152.30" y="180.78" width="21.70" height="18.53" fill="#c1c1c9"/>
<rect x="152.30" y="180.78" width="20.30" height="17.13" fill="#f6f5fb"/>
<rect x="174.70" y="180.08" width="23.10" height="19.93" fill="#9491c4"/>
<rect x="175.40" y="180.78" width="21.70" height="18.53" fill="#1f2788"/>
<rect x="175.40" y="180.78" width="20.30" height="17.13" fill="#394ea6"/>
<rect x="197.80" y="180.08" width="23.10" height="19.93" fill="#9491c4"/>
<rect x="198.50" y="180.78" width="21.70" height="18.53" fill="#4d4b9d"/>
<rect x="198.50" y="180.78" width="20.30" height="17.13" fill="#7b7fc1"/>
<rect x="151.60" y="200.01" width="23.10" height="19.93" fill="#88888c"/>
<rect x="152.30" y="200.71" width="21.70" height="18.53" fill="#ab111a"/>
<rect x="152.30" y="200.71" width="20.30" height="17.13" fill="#ed1c24"/>
<rect x="174.70" y="200.01" width="23.10" height="19.93" fill="#9491c4"/>
<rect x="175.40" y="200.71" width="21.70" height="18.53" fill="#3e3e96"/>
<rect x="175.40" y="200.71" width="20.30" height="17.13" fill="#676eb8"/>
<rect x="197.80" y="200.01" width="23.10" height="19.93" fill="#9491c4"/>
<rect x="198.50" y="200.71" width="21.70" height="18.53" fill="#363793"/>
<rect x="198.50" y="200.71" width="20.30" height="17.13" fill="#5d66b4"/>
<rect x="151.60" y="219.94" width="23.10" height="19.93" fill="#88888c"/>
<rect x="152.30" y="220.64" width="21.70" height="18.53" fill="#c5a0a6"/>
<rect x="152.30" y="220.64" width="20.30" height="17.13" fill="#fbd2d3"/>
<rect x="174.70" y="219.94" width="23.10" height="19.93" fill="#9491c4"/>
<rect x="175.40" y="220.64" width="21.70" height="18.53" fill="#1f2788"/>
<rect x="175.40" y="220.64" width="20.30" height="17.13" fill="#394ea6"/>
<rect x="197.80" y="219.94" width="23.10" height="19.93" fill="#918fb6"/>
<rect x="198.50" y="220.64" width="21.70" height="18.53" fill="#6d69ab"/>
<rect x="198.50" y="220.64" width="20.30" height="17.13" fill="#a2a2d3"/>
<rect x="151.60" y="239.87" width="23.10" height="19.93" fill="#88888c"/>
<rect x="152.30" y="240.57" width="21.70" height="18.53" fill="#ab111a"/>
<rect x="152.30" y="240.57" width="20.30" height="17.13" fill="#ed1c24"/>
<rect x="174.70" y="239.87" width="23.10" height="19.93" fill="#9491c4"/>
<rect x="175.40" y="240.57" width="21.70" height="18.53" fill="#1f2788"/>
<rect x="175.40" y="240.57" width="20.30" height="17.13" fill="#394ea6"/>
<rect x="197.80" y="239.87" width="23.10" height="19.93" fill="#8e8da9"/>
<rect x="198.50" y="240.57" width="21.70" height="18.53" fill="#8783b5"/>
<rect x="198.50" y="240.57" width="20.30" height="17.13" fill="#bebde0"/>
<rect x="151.60" y="259.80" width="23.10" height="19.93" fill="#88888c"/>
<rect x="152.30" y="260.50" width="21.70" height="18.53" fill="#ac1922"/>
<rect x="152.30" y="260.50" width="20.30" height="17.13" fill="#ee272f"/>
<rect x="174.70" y="259.80" width="23.10" height="19.93" fill="#9491c4"/>
<rect x="175.40" y="260.50" width="21.70" height="18.53" fill="#1f2788"/>
<rect x="175.40" y="260.50" width="20.30" height="17.13" fill="#394ea6"/>
<rect x="197.80" y="259.80" width="23.10" height="19.93" fill="#8e8da9"/>
<rect x="198.50" y="260.50" width="21.70" height="18.53" fill="#8783b5"/>
<rect x="198.50" y="260.50" width="20.30" height="17.13" fill="#bebde0"/>
<rect x="151.60" y="279.73" width="23.10" height="19.93" fill="#8f8dae"/>
<rect x="152.30" y="280.43" width="21.70" height="18.53" fill="#7e7ab2"/>
<rect x="152.30" y="280.43" width="20.30" height="17.13" fill="#b4b4dc"/>
<rect x="174.70" y="279.73" width="23.10" height="19.93" fill="#9491c4"/>
<rect x="175.40" y="280.43" width="21.70" height="18.53" fill="#1f2788"/>
<rect x="175.40" y="280.43" width="20.30" height="17.13" fill="#394ea6"/>
<rect x="197.80" y="279.73" width="23.10" height="19.93" fill="#9491c4"/>
<rect x="198.50" y="280.43" width="21.70" height="18.53" fill="#4d4b9d"/>
<rect x="198.50" y="280.43" width="20.30" height="17.13" fill="#7b7fc1"/>
<rect x="151.60" y="299.66" width="23.10" height="19.93" fill="#88888c"/>
<rect x="152.30" y="300.36" width="21.70" height="18.53" fill="#af2832"/>
<rect x="152.30" y="300.36" width="20.30" height="17.13" fill="#f03e45"/>
<rect x="174.70" y="299.66" width="23.10" height="19.93" fill="#9491c4"/>
<rect x="175.40" y="300.36" width="21.70" height="18.53" fill="#1f2788"/>
<rect x="175.40" y="300.36" width="20.30" height="17.13" fill="#394ea6"/>
<rect x="197.80" y="299.66" width="23.10" height="19.93" fill="#9491c4"/>
<rect x="198.50" y="300.36" width="21.70" height="18.53" fill="#45449a"/>
<rect x="198.50" y="300.36" width="20.30" height="17.13" fill="#7176bd"/>
<rect x="151.60" y="319.59" width="23.10" height="19.93" fill="#8f8dae"/>
<rect x="152.30" y="320.29" width="21.70" height="18.53" fill="#7e7ab2"/>
<rect x="152.30" y="320.29" width="20.30" height="17.13" fill="#b4b4dc"/>
<rect x="174.70" y="319.59" width="23.10" height="19.93" fill="#9491c4"/>
<rect x="175.40" y="320.29" width="21.70" height="18.53" fill="#1f2788"/>
<rect x="175.40" y="320.29" width="20.30" height="17.13" fill="#394ea6"/>
<rect x="197.80" y="319.59" width="23.10" height="19.93" fill="#9491c4"/>
<rect x="198.50" y="320.29" width="21.70" height="18.53" fill="#45449a"/>
<rect x="198.50" y="320.29" width="20.30" height="17.13" fill="#7176bd"/>
<rect x="151.60" y="339.52" width="23.10" height="19.93" fill="#9491c4"/>
<rect x="152.30" y="340.22" width="21.70" height="18.53" fill="#2f328f"/>
<rect x="152.30" y="340.22" width="20.30" height="17.13" fill="#525eaf"/>
<rect x="174.70" y="339.52" width="23.10" height="19.93" fill="#9491c4"/>
<rect x="175.40" y="340.22" width="21.70" height="18.53" fill="#1f2788"/>
<rect x="175.40" y="340.22" width="20.30" height="17.13" fill="#394ea6"/>
<rect x="197.80" y="339.52" width="23.10" height="19.93" fill="#9491c4"/>
<rect x="198.50" y="340.22" width="21.70" height="18.53" fill="#2f328f"/>
<rect x="198.50" y="340.22" width="20.30" height="17.13" fill="#525eaf"/>
<rect x="151.60" y="359.45" width="23.10" height="19.93" fill="#88888c"/>
<rect x="152.30" y="360.15" width="21.70" height="18.53" fill="#ab111a"/>
<rect x="152.30" y="360.15" width="20.30" height="17.13" fill="#ed1c24"/>
<rect x="174.70" y="359.45" width="23.10" height="19.93" fill="#9491c4"/>
<rect x="175.40" y="360.15" width="21.70" height="18.53" fill="#1f2788"/>
<rect x="175.40" y="360.15" width="20.30" height="17.13" fill="#394ea6"/>
<rect x="197.80" y="359.45" width="23.10" height="19.93" fill="#908eb2"/>
<rect x="198.50" y="360.15" width="21.70" height="18.53" fill="#7671ae"/>
<rect x="198.50" y="360.15" width="20.30" height="17.13" fill="#ababd7"/>
<rect x="151.60" y="379.38" width="23.10" height="19.93" fill="#88888c"/>
<rect x="152.30" y="380.08" width="21.70" height="18.53" fill="#b8525d"/>
<rect x="152.30" y="380.08" width="20.30" height="17.13" fill="#f4777c"/>
<rect x="174.70" y="379.38" width="23.10" height="19.93" fill="#9491c4"/>
<rect x="175.40" y="380.08" width="21.70" height="18.53" fill="#1f2788"/>
<rect x="175.40" y="380.08" width="20.30" height="17.13" fill="#394ea6"/>
<rect x="197.80" y="379.38" width="23.10" height="19.93" fill="#9390be"/>
<rect x="198.50" y="380.08" width="21.70" height="18.53" fill="#5d59a4"/>
<rect x="198.50" y="380.08" width="20.30" height="17.13" fill="#8f90ca"/>
<rect x="151.60" y="399.31" width="23.10" height="19.93" fill="#88888c"/>
<rect x="152.30" y="400.01" width="21.70" height="18.53" fill="#cccccc"/>
<rect x="152.30" y="400.01" width="20.30" height="17.13" fill="#ffffff"/>
<rect x="174.70" y="399.31" width="23.10" height="19.93" fill="#9491c4"/>
<rect x="175.40" y="400.01" width="21.70" height="18.53" fill="#1f2788"/>
<rect x="175.40" y="400.01" width="20.30" height="17.13" fill="#394ea6"/>
<rect x="197.80" y="399.31" width="23.10" height="19.93" fill="#9491c4"/>
<rect x="198.50" y="400.01" width="21.70" height="18.53" fill="#45449a"/>
<rect x="198.50" y="400.01" width="20.30" height="17.13" fill="#7176bd"/>
<rect x="151.60" y="419.24" width="23.10" height="19.93" fill="#88888c"/>
<rect x="152.30" y="419.94" width="21.70" height="18.53" fill="#ab111a"/>
<rect x="152.30" y="419.94" width="20.30" height="17.13" fill="#ed1c24"/>
<rect x="174.70" y="419.24" width="23.10" height="19.93" fill="#9491c4"/>
<rect x="175.40" y="419.94" width="21.70" height="18.53" fill="#1f2788"/>
<rect x="175.40" y="419.94" width="20.30" height="17.13" fill="#394ea6"/>
<rect x="197.80" y="419.24" width="23.10" height="19.93" fill="#9390be"/>
<rect x="198.50" y="419.94" width="21.70" height="18.53" fill="#5d59a4"/>
<rect x="198.50" y="419.94" width="20.30" height="17.13" fill="#8f90ca"/>
<rect x="151.60" y="439.17" width="23.10" height="19.93" fill="#9491c4"/>
<rect x="152.30" y="439.87" width="21.70" height="18.53" fill="#1f2788"/>
<rect x="152.30" y="439.87" width="20.30" height="17.13" fill="#394ea6"/>
<rect x="174.70" y="439.17" width="23.10" height="19.93" fill="#9491c4"/>
<rect x="175.40" y="439.87" width="21.70" height="18.53" fill="#2f328f"/>
<rect x="175.40" y="439.87" width="20.30" height="17.13" fill="#525eaf"/>
<rect x="197.80" y="439.17" width="23.10" height="19.93" fill="#9491c4"/>
<rect x="198.50" y="439.87" width="21.70" height="18.53" fill="#1f2788"/>
<rect x="198.50" y="439.87" width="20.30" height="17.13" fill="#394ea6"/>
<rect x="151.60" y="459.10" width="23.10" height="19.93" fill="#9491c4"/>
<rect x="152.30" y="459.80" width="21.70" height="18.53" fill="#1f2788"/>
<rect x="152.30" y="459.80" width="20.30" height="17.13" fill="#394ea6"/>
<rect x="174.70" y="459.10" width="23.10" height="19.93" fill="#9491c4"/>
<rect x="175.40" y="459.80" width="21.70" height="18.53" fill="#1f2788"/>
<rect x="175.40" y="459.80" width="20.30" height="17.13" fill="#394ea6"/>
<rect x="197.80" y="459.10" width="23.10" height="19.93" fill="#9491c4"/>
<rect x="198.50" y="459.80" width="21.70" height="18.53" fill="#1f2788"/>
<rect x="198.50" y="459.80" width="20.30" height="17.13" fill="#394ea6"/>
<rect x="151.60" y="479.03" width="23.10" height="19.93" fill="#9491c4"/>
<rect x="152.30" y="479.73" width="21.70" height="18.53" fill="#1f2788"/>
<rect x="152.30" y="479.73" width="20.30" height="17.13" fill="#394ea6"/>
<rect x="174.70" y="479.03" width="23.10" height="19.93" fill="#9491c4"/>
<rect x="175.40" y="479.73" width="21.70" height="18.53" fill="#1f2788"/>
<rect x="175.40" y="479.73" width="20.30" height="17.13" fill="#394ea6"/>
<rect x="197.80" y="479.03" width="23.10" height="19.93" fill="#9491c4"/>
<rect x="198.50" y="479.73" width="21.70" height="18.53" fill="#1f2788"/>
<rect x="198.50" y="479.73" width="20.30" height="17.13" fill="#394ea6"/>
<rect x="151.60" y="498.96" width="23.10" height="19.93" fill="#9491c4"/>
<rect x="152.30" y="499.66" width="21.70" height="18.53" fill="#1f2788"/>
<rect x="152.30" y="499.66" width="20.30" height="17.13" fill="#394ea6"/>
<rect x="174.70" y="498.96" width="23.10" height="19.93" fill="#9491c4"/>
<rect x="175.40" y="499.66" width="21.70" height="18.53" fill="#1f2788"/>
<rect x="175.40" y="499.66" width="20.30" height="17.13" fill="#394ea6"/>
<rect x="197.80" y="498.96" width="23.10" height="19.93" fill="#9491c4"/>
<rect x="198.50" y="499.66" width="21.70" height="18.53" fill="#1f2788"/>
<rect x="198.50" y="499.66" width="20.30" height="17.13" fill="#394ea6"/>
<rect x="151.60" y="518.89" width="23.10" height="19.93" fill="#9491c4"/>
<rect x="152.30" y="519.59" width="21.70" height="18.53" fill="#1f2788"/>
<rect x="152.30" y="519.59" width="20.30" height="17.13" fill="#394ea6"/>
<rect x="174.70" y="518.89" width="23.10" height="19.93" fill="#9491c4"/>
<rect x="175.40" y="519.59" width="21.70" height="18.53" fill="#1f2788"/>
<rect x="175.40" y="519.59" width="20.30" height="17.13" fill="#394ea6"/>
<rect x="197.80" y="518.89" width="23.10" height="19.93" fill="#9491c4"/>
<rect x="198.50" y="519.59" width="21.70" height="18.53" fill="#2f328f"/>
<rect x="198.50" y="519.59" width="20.30" height="17.13" fill="#525eaf"/>
<rect x="151.60" y="538.82" width="23.10" height="19.93" fill="#88888c"/>
<rect x="152.30" y="539.52" width="21.70" height="18.53" fill="#ab111a"/>
<rect x="152.30" y="539.52" width="20.30" height="17.13" fill="#ed1c24"/>
<rect x="174.70" y="538.82" width="23.10" height="19.93" fill="#9491c4"/>
<rect x="175.40" y="539.52" width="21.70" height="18.53" fill="#1f2788"/>
<rect x="175.40" y="539.52" width="20.30" height="17.13" fill="#394ea6"/>
<rect x="197.80" y="538.82" width="23.10" height="19.93" fill="#9491c4"/>
<rect x="198.50" y="539.52" width="21.70" height="18.53" fill="#4d4b9d"/>
<rect x="198.50" y="539.52" width="20.30" height="17.13" fill="#7b7fc1"/>
<rect x="151.60" y="558.75" width="23.10" height="19.93" fill="#8d8ca5"/>
<rect x="152.30" y="559.45" width="21.70" height="18.53" fill="#908db8"/>
<rect x="152.30" y="559.45" width="20.30" height="17.13" fill="#c7c6e5"/>
<rect x="174.70" y="558.75" width="23.10" height="19.93" fill="#9491c4"/>
<rect x="175.40" y="559.45" width="21.70" height="18.53" fill="#1f2788"/>
<rect x="175.40" y="559.45" width="20.30" height="17.13" fill="#394ea6"/>
<rect x="197.80" y="558.75" width="23.10" height="19.93" fill="#898990"/>
<rect x="198.50" y="559.45" width="21.70" height="18.53" fill="#c1c1c9"/>
<rect x="198.50" y="559.45" width="20.30" height="17.13" fill="#f6f5fb"/>
<rect x="151.60" y="578.68" width="23.10" height="19.93" fill="#9491c4"/>
<rect x="152.30" y="579.38" width="21.70" height="18.53" fill="#1f2788"/>
<rect x="152.30" y="579.38" width="20.30" height="17.13" fill="#394ea6"/>
<rect x="174.70" y="578.68" width="23.10" height="19.93" fill="#9491c4"/>
<rect x="175.40" y="579.38" width="21.70" height="18.53" fill="#2c2f8e"/>
<rect x="175.40" y="579.38" width="20.30" height="17.13" fill="#4d5bad"/>
<rect x="197.80" y="578.68" width="23.10" height="19.93" fill="#9491c4"/>
<rect x="198.50" y="579.38" width="21.70" height="18.53" fill="#323491"/>
<rect x="198.50" y="579.38" width="20.30" height="17.13" fill="#5661b1"/>
<rect x="151.60" y="598.61" width="23.10" height="19.93" fill="#9390be"/>
<rect x="152.30" y="599.31" width="21.70" height="18.53" fill="#5d59a4"/>
<rect x="152.30" y="599.31" width="20.30" height="17.13" fill="#8f90ca"/>
<rect x="174.70" y="598.61" width="23.10" height="19.93" fill="#918fb6"/>
<rect x="175.40" y="599.31" width="21.70" height="18.53" fill="#6d69ab"/>
<rect x="175.40" y="599.31" width="20.30" height="17.13" fill="#a2a2d3"/>
<rect x="197.80" y="598.61" width="23.10" height="19.93" fill="#88888c"/>
<rect x="198.50" y="599.31" width="21.70" height="18.53" fill="#cac1c2"/>
<rect x="198.50" y="599.31" width="20.30" height="17.13" fill="#fef4f4"/>
<rect x="151.60" y="618.54" width="23.10" height="19.93" fill="#88888c"/>
<rect x="152.30" y="619.24" width="21.70" height="18.53" fill="#ab111a"/>
<rect x="152.30" y="619.24" width="20.30" height="17.13" fill="#ed1c24"/>
<rect x="174.70" y="618.54" width="23.10" height="19.93" fill="#9491c4"/>
<rect x="175.40" y="619.24" width="21.70" height="18.53" fill="#363793"/>
<rect x="175.40" y="619.24" width="20.30" height="17.13" fill="#5d66b4"/>
<rect x="197.80" y="618.54" width="23.10" height="19.93" fill="#9491c4"/>
<rect x="198.50" y="619.24" width="21.70" height="18.53" fill="#3e3e96"/>
<rect x="198.50" y="619.24" width="20.30" height="17.13" fill="#676eb8"/>
<rect x="151.60" y="638.47" width="23.10" height="19.93" fill="#898990"/>
<rect x="152.30" y="639.17" width="21.70" height="18.53" fill="#c1c1c9"/>
<rect x="152.30" y="639.17" width="20.30" height="17.13" fill="#f6f5fb"/>
<rect x="174.70" y="638.47" width="23.10" height="19.93" fill="#9491c4"/>
<rect x="175.40" y="639.17" width="21.70" height="18.53" fill="#363793"/>
<rect x="175.40" y="639.17" width="20.30" height="17.13" fill="#5d66b4"/>
<rect x="197.80" y="638.47" width="23.10" height="19.93" fill="#9491c4"/>
<rect x="198.50" y="639.17" width="21.70" height="18.53" fill="#1f2788"/>
<rect x="198.50" y="639.17" width="20.30" height="17.13" fill="#394ea6"/>
<rect x="151.60" y="658.40" width="23.10" height="19.93" fill="#9491c4"/>
<rect x="152.30" y="659.10" width="21.70" height="18.53" fill="#1f2788"/>
<rect x="152.30" y="659.10" width="20.30" height="17.13" fill="#394ea6"/>
<rect x="174.70" y="658.40" width="23.10" height="19.93" fill="#9491c4"/>
<rect x="175.40" y="659.10" width="21.70" height="18.53" fill="#323491"/>
<rect x="175.40" y="659.10" width="20.30" height="17.13" fill="#5661b1"/>
<rect x="197.80" y="658.40" width="23.10" height="19.93" fill="#9491c4"/>
<rect x="198.50" y="659.10" width="21.70" height="18.53" fill="#1f2788"/>
<rect x="198.50" y="659.10" width="20.30" height="17.13" fill="#394ea6"/>
<rect x="151.60" y="678.33" width="23.10" height="19.93" fill="#8e8da9"/>
<rect x="152.30" y="679.03" width="21.70" height="18.53" fill="#8783b5"/>
<rect x="152.30" y="679.03" width="20.30" height="17.13" fill="#bebde0"/>
<rect x="174.70" y="678.33" width="23.10" height="19.93" fill="#88888c"/>
<rect x="175.40" y="679.03" width="21.70" height="18.53" fill="#ab111a"/>
<rect x="175.40" y="679.03" width="20.30" height="17.13" fill="#ed1c24"/>
<rect x="197.80" y="678.33" width="23.10" height="19.93" fill="#9491c4"/>
<rect x="198.50" y="679.03" width="21.70" height="18.53" fill="#1f2788"/>
<rect x="198.50" y="679.03" width="20.30" height="17.13" fill="#394ea6"/>
<rect x="151.60" y="698.26" width="23.10" height="19.93" fill="#8f8dae"/>
<rect x="152.30" y="698.96" width="21.70" height="18.53" fill="#7e7ab2"/>
<rect x="152.30" y="698.96" width="20.30" height="17.13" fill="#b4b4dc"/>
<rect x="174.70" y="698.26" width="23.10" height="19.93" fill="#88888c"/>
<rect x="175.40" y="698.96" width="21.70" height="18.53" fill="#ab111a"/>
<rect x="175.40" y="698.96" width="20.30" height="17.13" fill="#ed1c24"/>
<rect x="197.80" y="698.26" width="23.10" height="19.93" fill="#88888c"/>
<rect x="198.50" y="698.96" width="21.70" height="18.53" fill="#bd6e78"/>
<rect x="198.50" y="698.96" width="20.30" height="17.13" fill="#f7999c"/>
<rect x="151.60" y="718.19" width="23.10" height="19.93" fill="#9491c4"/>
<rect x="152.30" y="718.89" width="21.70" height="18.53" fill="#1f2788"/>
<rect x="152.30" y="718.89" width="20.30" height="17.13" fill="#394ea6"/>
<rect x="174.70" y="718.19" width="23.10" height="19.93" fill="#9491c4"/>
<rect x="175.40" y="718.89" width="21.70" height="18.53" fill="#323491"/>
<rect x="175.40" y="718.89" width="20.30" height="17.13" fill="#5661b1"/>
<rect x="197.80" y="718.19" width="23.10" height="19.93" fill="#9491c4"/>
<rect x="198.50" y="718.89" width="21.70" height="18.53" fill="#323491"/>
<rect x="198.50" y="718.89" width="20.30" height="17.13" fill="#5661b1"/>
<rect x="151.60" y="738.12" width="23.10" height="19.93" fill="#9491c4"/>
<rect x="152.30" y="738.82" width="21.70" height="18.53" fill="#1f2788"/>
<rect x="152.30" y="738.82" width="20.30" height="17.13" fill="#394ea6"/>
<rect x="174.70" y="738.12" width="23.10" height="19.93" fill="#9491c4"/>
<rect x="175.40" y="738.82" width="21.70" height="18.53" fill="#2f328f"/>
<rect x="175.40" y="738.82" width="20.30" height="17.13" fill="#525eaf"/>
<rect x="197.80" y="738.12" width="23.10" height="19.93" fill="#9491c4"/>
<rect x="198.50" y="738.82" width="21.70" height="18.53" fill="#1f2788"/>
<rect x="198.50" y="738.82" width="20.30" height="17.13" fill="#394ea6"/>
<rect x="151.60" y="758.05" width="23.10" height="19.93" fill="#9491c4"/>
<rect x="152.30" y="758.75" width="21.70" height="18.53" fill="#1f2788"/>
<rect x="152.30" y="758.75" width="20.30" height="17.13" fill="#394ea6"/>
<rect x="174.70" y="758.05" width="23.10" height="19.93" fill="#9491c4"/>
<rect x="175.40" y="758.75" width="21.70" height="18.53" fill="#323491"/>
<rect x="175.40" y="758.75" width="20.30" height="17.13" fill="#5661b1"/>
<rect x="197.80" y="758.05" width="23.10" height="19.93" fill="#9491c4"/>
<rect x="198.50" y="758.75" width="21.70" height="18.53" fill="#2c2f8e"/>
<rect x="198.50" y="758.75" width="20.30" height="17.13" fill="#4d5bad"/>
<rect x="151.60" y="777.98" width="23.10" height="19.93" fill="#9491c4"/>
<rect x="152.30" y="778.68" width="21.70" height="18.53" fill="#1f2788"/>
<rect x="152.30" y="778.68" width="20.30" height="17.13" fill="#394ea6"/>
<rect x="174.70" y="777.98" width="23.10" height="19.93" fill="#9491c4"/>
<rect x="175.40" y="778.68" width="21.70" height="18.53" fill="#363793"/>
<rect x="175.40" y="778.68" width="20.30" height="17.13" fill="#5d66b4"/>
<rect x="197.80" y="777.98" width="23.10" height="19.93" fill="#9491c4"/>
<rect x="198.50" y="778.68" width="21.70" height="18.53" fill="#363793"/>
<rect x="198.50" y="778.68" width="20.30" height="17.13" fill="#5d66b4"/>
<rect x="151.60" y="797.91" width="23.10" height="19.93" fill="#9491c4"/>
<rect x="152.30" y="798.61" width="21.70" height="18.53" fill="#1f2788"/>
<rect x="152.30" y="798.61" width="20.30" height="17.13" fill="#394ea6"/>
<rect x="174.70" y="797.91" width="23.10" height="19.93" fill="#9491c4"/>
<rect x="175.40" y="798.61" width="21.70" height="18.53" fill="#323491"/>
<rect x="175.40" y="798.61" width="20.30" height="17.13" fill="#5661b1"/>
<rect x="197.80" y="797.91" width="23.10" height="19.93" fill="#9491c4"/>
<rect x="198.50" y="798.61" width="21.70" height="18.53" fill="#1f2788"/>
<rect x="198.50" y="798.61" width="20.30" height="17.13" fill="#394ea6"/>
<rect x="151.60" y="817.84" width="23.10" height="19.93" fill="#9491c4"/>
<rect x="152.30" y="818.54" width="21.70" height="18.53" fill="#1f2788"/>
<rect x="152.30" y="818.54" width="20.30" height="17.13" fill="#394ea6"/>
<rect x="174.70" y="817.84" width="23.10" height="19.93" fill="#9491c4"/>
<rect x="175.40" y="818.54" width="21.70" height="18.53" fill="#2c2f8e"/>
<rect x="175.40" y="818.54" width="20.30" height="17.13" fill="#4d5bad"/>
<rect x="197.80" y="817.84" width="23.10" height="19.93" fill="#9491c4"/>
<rect x="198.50" y="818.54" width="21.70" height="18.53" fill="#45449a"/>
<rect x="198.50" y="818.54" width="20.30" height="17.13" fill="#7176bd"/>
<rect x="151.60" y="837.77" width="23.10" height="19.93" fill="#9491c4"/>
<rect x="152.30" y="838.47" width="21.70" height="18.53" fill="#363793"/>
<rect x="152.30" y="838.47" width="20.30" height="17.13" fill="#5d66b4"/>
<rect x="174.70" y="837.77" width="23.10" height="19.93" fill="#9390be"/>
<rect x="175.40" y="838.47" width="21.70" height="18.53" fill="#5d59a4"/>
<rect x="175.40" y="838.47" width="20.30" height="17.13" fill="#8f90ca"/>
<rect x="197.80" y="837.77" width="23.10" height="19.93" fill="#9491c4"/>
<rect x="198.50" y="838.47" width="21.70" height="18.53" fill="#1f2788"/>
<rect x="198.50" y="838.47" width="20.30" height="17.13" fill="#394ea6"/>
<rect x="151.60" y="857.70" width="23.10" height="19.93" fill="#9491c4"/>
<rect x="152.30" y="858.40" width="21.70" height="18.53" fill="#1f2788"/>
<rect x="152.30" y="858.40" width="20.30" height="17.13" fill="#394ea6"/>
<rect x="174.70" y="857.70" width="23.10" height="19.93" fill="#928fba"/>
<rect x="175.40" y="858.40" width="21.70" height="18.53" fill="#6561a7"/>
<rect x="175.40" y="858.40" width="20.30" height="17.13" fill="#9899ce"/>
<rect x="197.80" y="857.70" width="23.10" height="19.93" fill="#9491c4"/>
<rect x="198.50" y="858.40" width="21.70" height="18.53" fill="#2c2f8e"/>
<rect x="198.50" y="858.40" width="20.30" height="17.13" fill="#4d5bad"/>
<rect x="151.60" y="877.63" width="23.10" height="19.93" fill="#9491c4"/>
<rect x="152.30" y="878.33" width="21.70" height="18.53" fill="#2c2f8e"/>
<rect x="152.30" y="878.33" width="20.30" height="17.13" fill="#4d5bad"/>
<rect x="174.70" y="877.63" width="23.10" height="19.93" fill="#9491c4"/>
<rect x="175.40" y="878.33" width="21.70" height="18.53" fill="#3e3e96"/>
<rect x="175.40" y="878.33" width="20.30" height="17.13" fill="#676eb8"/>
<rect x="197.80" y="877.63" width="23.10" height="19.93" fill="#9491c4"/>
<rect x="198.50" y="878.33" width="21.70" height="18.53" fill="#1f2788"/>
<rect x="198.50" y="878.33" width="20.30" height="17.13" fill="#394ea6"/>
<rect x="151.60" y="897.56" width="23.10" height="19.93" fill="#8f8dae"/>
<rect x="152.30" y="898.26" width="21.70" height="18.53" fill="#7e7ab2"/>
<rect x="152.30" y="898.26" width="20.30" height="17.13" fill="#b4b4dc"/>
<rect x="174.70" y="897.56" width="23.10" height="19.93" fill="#88888c"/>
<rect x="175.40" y="898.26" width="21.70" height="18.53" fill="#ab111a"/>
<rect x="175.40" y="898.26" width="20.30" height="17.13" fill="#ed1c24"/>
<rect x="197.80" y="897.56" width="23.10" height="19.93" fill="#9390be"/>
<rect x="198.50" y="898.26" width="21.70" height="18.53" fill="#5d59a4"/>
<rect x="198.50" y="898.26" width="20.30" height="17.13" fill="#8f90ca"/>
<rect x="151.60" y="917.49" width="23.10" height="19.93" fill="#9491c4"/>
<rect x="152.30" y="918.19" width="21.70" height="18.53" fill="#323491"/>
<rect x="152.30" y="918.19" width="20.30" height="17.13" fill="#5661b1"/>
<rect x="174.70" y="917.49" width="23.10" height="19.93" fill="#88888c"/>
<rect x="175.40" y="918.19" width="21.70" height="18.53" fill="#bd6e78"/>
<rect x="175.40" y="918.19" width="20.30" height="17.13" fill="#f7999c"/>
<rect x="197.80" y="917.49" width="23.10" height="19.93" fill="#9491c3"/>
<rect x="198.50" y="918.19" width="21.70" height="18.53" fill="#5552a1"/>
<rect x="198.50" y="918.19" width="20.30" height="17.13" fill="#8587c5"/>
<rect x="151.60" y="937.42" width="23.10" height="19.93" fill="#88888c"/>
<rect x="152.30" y="938.12" width="21.70" height="18.53" fill="#c9babc"/>
<rect x="152.30" y="938.12" width="20.30" height="17.13" fill="#feeded"/>
<rect x="174.70" y="937.42" width="23.10" height="19.93" fill="#9491c4"/>
<rect x="175.40" y="938.12" width="21.70" height="18.53" fill="#1f2788"/>
<rect x="175.40" y="938.12" width="20.30" height="17.13" fill="#394ea6"/>
<rect x="197.80" y="937.42" width="23.10" height="19.93" fill="#9491c4"/>
<rect x="198.50" y="938.12" width="21.70" height="18.53" fill="#2c2f8e"/>
<rect x="198.50" y="938.12" width="20.30" height="17.13" fill="#4d5bad"/>
<rect x="151.60" y="957.35" width="23.10" height="19.93" fill="#88888c"/>
<rect x="152.30" y="958.05" width="21.70" height="18.53" fill="#cccccc"/>
<rect x="152.30" y="958.05" width="20.30" height="17.13" fill="#ffffff"/>
<rect x="174.70" y="957.35" width="23.10" height="19.93" fill="#8e8da9"/>
<rect x="175.40" y="958.05" width="21.70" height="18.53" fill="#8783b5"/>
<rect x="175.40" y="958.05" width="20.30" height="17.13" fill="#bebde0"/>
<rect x="197.80" y="957.35" width="23.10" height="19.93" fill="#9491c4"/>
<rect x="198.50" y="958.05" width="21.70" height="18.53" fill="#2c2f8e"/>
<rect x="198.50" y="958.05" width="20.30" height="17.13" fill="#4d5bad"/>
<rect x="151.60" y="977.28" width="23.10" height="19.93" fill="#928fba"/>
<rect x="152.30" y="977.98" width="21.70" height="18.53" fill="#6561a7"/>
<rect x="152.30" y="977.98" width="20.30" height="17.13" fill="#9899ce"/>
<rect x="174.70" y="977.28" width="23.10" height="19.93" fill="#9491c3"/>
<rect x="175.40" y="977.98" width="21.70" height="18.53" fill="#5552a1"/>
<rect x="175.40" y="977.98" width="20.30" height="17.13" fill="#8587c5"/>
<rect x="197.80" y="977.28" width="23.10" height="19.93" fill="#9491c4"/>
<rect x="198.50" y="977.98" width="21.70" height="18.53" fill="#1f2788"/>
<rect x="198.50" y="977.98" width="20.30" height="17.13" fill="#394ea6"/>
<rect x="151.60" y="997.21" width="23.10" height="19.93" fill="#9491c4"/>
<rect x="152.30" y="997.91" width="21.70" height="18.53" fill="#363793"/>
<rect x="152.30" y="997.91" width="20.30" height="17.13" fill="#5d66b4"/>
<rect x="174.70" y="997.21" width="23.10" height="19.93" fill="#9491c4"/>
<rect x="175.40" y="997.91" width="21.70" height="18.53" fill="#363793"/>
<rect x="175.40" y="997.91" width="20.30" height="17.13" fill="#5d66b4"/>
<rect x="197.80" y="997.21" width="23.10" height="19.93" fill="#9491c4"/>
<rect x="198.50" y="997.91" width="21.70" height="18.53" fill="#323491"/>
<rect x="198.50" y="997.91" width="20.30" height="17.13" fill="#5661b1"/>
<rect x="151.60" y="1017.14" width="23.10" height="19.93" fill="#9491c4"/>
<rect x="152.30" y="1017.84" width="21.70" height="18.53" fill="#323491"/>
<rect x="152.30" y="1017.84" width="20.30" height="17.13" fill="#5661b1"/>
<rect x="174.70" y="1017.14" width="23.10" height="19.93" fill="#9491c4"/>
<rect x="175.40" y="1017.84" width="21.70" height="18.53" fill="#1f2788"/>
<rect x="175.40" y="1017.84" width="20.30" height="17.13" fill="#394ea6"/>
<rect x="197.80" y="1017.14" width="23.10" height="19.93" fill="#9491c4"/>
<rect x="198.50" y="1017.84" width="21.70" height="18.53" fill="#1f2788"/>
<rect x="198.50" y="1017.84" width="20.30" height="17.13" fill="#394ea6"/>
<rect x="151.60" y="1037.07" width="23.10" height="19.93" fill="#88888c"/>
<rect x="152.30" y="1037.77" width="21.70" height="18.53" fill="#b1303b"/>
<rect x="152.30" y="1037.77" width="20.30" height="17.13" fill="#f14950"/>
<rect x="174.70" y="1037.07" width="23.10" height="19.93" fill="#9491c4"/>
<rect x="175.40" y="1037.77" width="21.70" height="18.53" fill="#1f2788"/>
<rect x="175.40" y="1037.77" width="20.30" height="17.13" fill="#394ea6"/>
<rect x="197.80" y="1037.07" width="23.10" height="19.93" fill="#9491c4"/>
<rect x="198.50" y="1037.77" width="21.70" height="18.53" fill="#1f2788"/>
<rect x="198.50" y="1037.77" width="20.30" height="17.13" fill="#394ea6"/>
<rect x="151.60" y="1057.00" width="23.10" height="19.93" fill="#8c8ba1"/>
<rect x="152.30" y="1057.70" width="21.70" height="18.53" fill="#9a96bc"/>
<rect x="152.30" y="1057.70" width="20.30" height="17.13" fill="#d0cfe9"/>
<rect x="174.70" y="1057.00" width="23.10" height="19.93" fill="#9491c4"/>
<rect x="175.40" y="1057.70" width="21.70" height="18.53" fill="#1f2788"/>
<rect x="175.40" y="1057.70" width="20.30" height="17.13" fill="#394ea6"/>
<rect x="197.80" y="1057.00" width="23.10" height="19.93" fill="#9491c4"/>
<rect x="198.50" y="1057.70" width="21.70" height="18.53" fill="#1f2788"/>
<rect x="198.50" y="1057.70" width="20.30" height="17.13" fill="#394ea6"/>
<rect x="151.60" y="1076.93" width="23.10" height="19.93" fill="#88888c"/>
<rect x="152.30" y="1077.63" width="21.70" height="18.53" fill="#bd6e78"/>
<rect x="152.30" y="1077.63" width="20.30" height="17.13" fill="#f7999c"/>
<rect x="174.70" y="1076.93" width="23.10" height="19.93" fill="#9491c4"/>
<rect x="175.40" y="1077.63" width="21.70" height="18.53" fill="#1f2788"/>
<rect x="175.40" y="1077.63" width="20.30" height="17.13" fill="#394ea6"/>
<rect x="197.80" y="1076.93" width="23.10" height="19.93" fill="#9491c4"/>
<rect x="198.50" y="1077.63" width="21.70" height="18.53" fill="#1f2788"/>
<rect x="198.50" y="1077.63" width="20.30" height="17.13" fill="#394ea6"/>
<rect x="238.70" y="60.50" width="69.30" height="1036.36" fill="#9090a8"/>
<rect x="238.70" y="60.50" width="23.10" height="19.93" fill="#88888c"/>
<rect x="239.40" y="61.20" width="21.70" height="18.53" fill="#cac1c2"/>
<rect x="239.40" y="61.20" width="20.30" height="17.13" fill="#fef4f4"/>
<rect x="261.80" y="60.50" width="23.10" height="19.93" fill="#88888c"/>
<rect x="262.50" y="61.20" width="21.70" height="18.53" fill="#bd6e78"/>
<rect x="262.50" y="61.20" width="20.30" height="17.13" fill="#f7999c"/>
<rect x="284.90" y="60.50" width="23.10" height="19.93" fill="#88888c"/>
<rect x="285.60" y="61.20" width="21.70" height="18.53" fill="#ab111a"/>
<rect x="285.60" y="61.20" width="20.30" height="17.13" fill="#ed1c24"/>
<rect x="238.70" y="80.43" width="23.10" height="19.93" fill="#88888c"/>
<rect x="239.40" y="81.13" width="21.70" height="18.53" fill="#cccccc"/>
<rect x="239.40" y="81.13" width="20.30" height="17.13" fill="#ffffff"/>
<rect x="261.80" y="80.43" width="23.10" height="19.93" fill="#9491c4"/>
<rect x="262.50" y="81.13" width="21.70" height="18.53" fill="#2f328f"/>
<rect x="262.50" y="81.13" width="20.30" height="17.13" fill="#525eaf"/>
<rect x="284.90" y="80.43" width="23.10" height="19.93" fill="#88888c"/>
<rect x="285.60" y="81.13" width="21.70" height="18.53" fill="#cccccc"/>
<rect x="285.60" y="81.13" width="20.30" height="17.13" fill="#ffffff"/>
<rect x="238.70" y="100.36" width="23.10" height="19.93" fill="#88888c"/>
<rect x="239.40" y="101.06" width="21.70" height="18.53" fill="#bd6e78"/>
<rect x="239.40" y="101.06" width="20.30" height="17.13" fill="#f7999c"/>
<rect x="261.80" y="100.36" width="23.10" height="19.93" fill="#88888c"/>
<rect x="262.50" y="101.06" width="21.70" height="18.53" fill="#c3969c"/>
<rect x="262.50" y="101.06" width="20.30" height="17.13" fill="#fac6c8"/>
<rect x="284.90" y="100.36" width="23.10" height="19.93" fill="#88888c"/>
<rect x="285.60" y="101.06" width="21.70" height="18.53" fill="#ab111a"/>
<rect x="285.60" y="101.06" width="20.30" height="17.13" fill="#ed1c24"/>
<rect x="238.70" y="120.29" width="23.10" height="19.93" fill="#88888c"/>
<rect x="239.40" y="120.99" width="21.70" height="18.53" fill="#ab111a"/>
<rect x="239.40" y="120.99" width="20.30" height="17.13" fill="#ed1c24"/>
<rect x="261.80" y="120.29" width="23.10" height="19.93" fill="#88888c"/>
<rect x="262.50" y="120.99" width="21.70" height="18.53" fill="#b33843"/>
<rect x="262.50" y="120.99" width="20.30" height="17.13" fill="#f2555b"/>
<rect x="284.90" y="120.29" width="23.10" height="19.93" fill="#88888c"/>
<rect x="285.60" y="120.99" width="21.70" height="18.53" fill="#b1303b"/>
<rect x="285.60" y="120.99" width="20.30" height="17.13" fill="#f14950"/>
<rect x="238.70" y="140.22" width="23.10" height="19.93" fill="#8c8ba1"/>
<rect x="239.40" y="140.92" width="21.70" height="18.53" fill="#9a96bc"/>
<rect x="239.40" y="140.92" width="20.30" height="17.13" fill="#d0cfe9"/>
<rect x="261.80" y="140.22" width="23.10" height="19.93" fill="#88888c"/>
<rect x="262.50" y="140.92" width="21.70" height="18.53" fill="#c28b93"/>
<rect x="262.50" y="140.92" width="20.30" height="17.13" fill="#fabbbd"/>
<rect x="284.90" y="140.22" width="23.10" height="19.93" fill="#88888c"/>
<rect x="285.60" y="140.92" width="21.70" height="18.53" fill="#ab111a"/>
<rect x="285.60" y="140.92" width="20.30" height="17.13" fill="#ed1c24"/>
<rect x="238.70" y="160.15" width="23.10" height="19.93" fill="#9491c4"/>
<rect x="239.40" y="160.85" width="21.70" height="18.53" fill="#2f328f"/>
<rect x="239.40" y="160.85" width="20.30" height="17.13" fill="#525eaf"/>
<rect x="261.80" y="160.15" width="23.10" height="19.93" fill="#88888c"/>
<rect x="262.50" y="160.85" width="21.70" height="18.53" fill="#bb646f"/>
<rect x="262.50" y="160.85" width="20.30" height="17.13" fill="#f68e92"/>
<rect x="284.90" y="160.15" width="23.10" height="19.93" fill="#88888c"/>
<rect x="285.60" y="160.85" width="21.70" height="18.53" fill="#ab111a"/>
<rect x="285.60" y="160.85" width="20.30" height="17.13" fill="#ed1c24"/>
<rect x="238.70" y="180.08" width="23.10" height="19.93" fill="#88888c"/>
<rect x="239.40" y="180.78" width="21.70" height="18.53" fill="#be7881"/>
<rect x="239.40" y="180.78" width="20.30" height="17.13" fill="#f8a4a7"/>
<rect x="261.80" y="180.08" width="23.10" height="19.93" fill="#88888c"/>
<rect x="262.50" y="180.78" width="21.70" height="18.53" fill="#c7abaf"/>
<rect x="262.50" y="180.78" width="20.30" height="17.13" fill="#fcddde"/>
<rect x="284.90" y="180.08" width="23.10" height="19.93" fill="#88888c"/>
<rect x="285.60" y="180.78" width="21.70" height="18.53" fill="#ab111a"/>
<rect x="285.60" y="180.78" width="20.30" height="17.13" fill="#ed1c24"/>
<rect x="238.70" y="200.01" width="23.10" height="19.93" fill="#88888c"/>
<rect x="239.40" y="200.71" width="21.70" height="18.53" fill="#b1303b"/>
<rect x="239.40" y="200.71" width="20.30" height="17.13" fill="#f14950"/>
<rect x="261.80" y="200.01" width="23.10" height="19.93" fill="#9491c4"/>
<rect x="262.50" y="200.71" width="21.70" height="18.53" fill="#323491"/>
<rect x="262.50" y="200.71" width="20.30" height="17.13" fill="#5661b1"/>
<rect x="284.90" y="200.01" width="23.10" height="19.93" fill="#9491c4"/>
<rect x="285.60" y="200.71" width="21.70" height="18.53" fill="#323491"/>
<rect x="285.60" y="200.71" width="20.30" height="17.13" fill="#5661b1"/>
<rect x="238.70" y="219.94" width="23.10" height="19.93" fill="#88888c"/>
<rect x="239.40" y="220.64" width="21.70" height="18.53" fill="#ab111a"/>
<rect x="239.40" y="220.64" width="20.30" height="17.13" fill="#ed1c24"/>
<rect x="261.80" y="219.94" width="23.10" height="19.93" fill="#88888c"/>
<rect x="262.50" y="220.64" width="21.70" height="18.53" fill="#ab111a"/>
<rect x="262.50" y="220.64" width="20.30" height="17.13" fill="#ed1c24"/>
<rect x="284.90" y="219.94" width="23.10" height="19.93" fill="#88888c"/>
<rect x="285.60" y="220.64" width="21.70" height="18.53" fill="#be7881"/>
<rect x="285.60" y="220.64" width="20.30" height="17.13" fill="#f8a4a7"/>
<rect x="238.70" y="239.87" width="23.10" height="19.93" fill="#88888c"/>
<rect x="239.40" y="240.57" width="21.70" height="18.53" fill="#ab111a"/>
<rect x="239.40" y="240.57" width="20.30" height="17.13" fill="#ed1c24"/>
<rect x="261.80" y="239.87" width="23.10" height="19.93" fill="#8a8a96"/>
<rect x="262.50" y="240.57" width="21.70" height="18.53" fill="#b3b1c4"/>
<rect x="262.50" y="240.57" width="20.30" height="17.13" fill="#e9e8f4"/>
<rect x="284.90" y="239.87" width="23.10" height="19.93" fill="#88888c"/>
<rect x="285.60" y="240.57" width="21.70" height="18.53" fill="#ab111a"/>
<rect x="285.60" y="240.57" width="20.30" height="17.13" fill="#ed1c24"/>
<rect x="238.70" y="259.80" width="23.10" height="19.93" fill="#88888c"/>
<rect x="239.40" y="260.50" width="21.70" height="18.53" fill="#bb646f"/>
<rect x="239.40" y="260.50" width="20.30" height="17.13" fill="#f68e92"/>
<rect x="261.80" y="259.80" width="23.10" height="19.93" fill="#9491c4"/>
<rect x="262.50" y="260.50" width="21.70" height="18.53" fill="#2f328f"/>
<rect x="262.50" y="260.50" width="20.30" height="17.13" fill="#525eaf"/>
<rect x="284.90" y="259.80" width="23.10" height="19.93" fill="#928fba"/>
<rect x="285.60" y="260.50" width="21.70" height="18.53" fill="#6561a7"/>
<rect x="285.60" y="260.50" width="20.30" height="17.13" fill="#9899ce"/>
<rect x="238.70" y="279.73" width="23.10" height="19.93" fill="#88888c"/>
<rect x="239.40" y="280.43" width="21.70" height="18.53" fill="#c28b93"/>
<rect x="239.40" y="280.43" width="20.30" height="17.13" fill="#fabbbd"/>
<rect x="261.80" y="279.73" width="23.10" height="19.93" fill="#88888c"/>
<rect x="262.50" y="280.43" width="21.70" height="18.53" fill="#c7abaf"/>
<rect x="262.50" y="280.43" width="20.30" height="17.13" fill="#fcddde"/>
<rect x="284.90" y="279.73" width="23.10" height="19.93" fill="#88888c"/>
<rect x="285.60" y="280.43" width="21.70" height="18.53" fill="#ab111a"/>
<rect x="285.60" y="280.43" width="20.30" height="17.13" fill="#ed1c24"/>
<rect x="238.70" y="299.66" width="23.10" height="19.93" fill="#88888c"/>
<rect x="239.40" y="300.36" width="21.70" height="18.53" fill="#ab111a"/>
<rect x="239.40" y="300.36" width="20.30" height="17.13" fill="#ed1c24"/>
<rect x="261.80" y="299.66" width="23.10" height="19.93" fill="#8a8a96"/>
<rect x="262.50" y="300.36" width="21.70" height="18.53" fill="#b3b1c4"/>
<rect x="262.50" y="300.36" width="20.30" height="17.13" fill="#e9e8f4"/>
<rect x="284.90" y="299.66" width="23.10" height="19.93" fill="#88888c"/>
<rect x="285.60" y="300.36" width="21.70" height="18.53" fill="#b33843"/>
<rect x="285.60" y="300.36" width="20.30" height="17.13" fill="#f2555b"/>
<rect x="238.70" y="319.59" width="23.10" height="19.93" fill="#88888c"/>
<rect x="239.40" y="320.29" width="21.70" height="18.53" fill="#c28b93"/>
<rect x="239.40" y="320.29" width="20.30" height="17.13" fill="#fabbbd"/>
<rect x="261.80" y="319.59" width="23.10" height="19.93" fill="#8c8ba1"/>
<rect x="262.50" y="320.29" width="21.70" height="18.53" fill="#9a96bc"/>
<rect x="262.50" y="320.29" width="20.30" height="17.13" fill="#d0cfe9"/>
<rect x="284.90" y="319.59" width="23.10" height="19.93" fill="#88888c"/>
<rect x="285.60" y="320.29" width="21.70" height="18.53" fill="#ab111a"/>
<rect x="285.60" y="320.29" width="20.30" height="17.13" fill="#ed1c24"/>
<rect x="238.70" y="339.52" width="23.10" height="19.93" fill="#88888c"/>
<rect x="239.40" y="340.22" width="21.70" height="18.53" fill="#bd6e78"/>
<rect x="239.40" y="340.22" width="20.30" height="17.13" fill="#f7999c"/>
<rect x="261.80" y="339.52" width="23.10" height="19.93" fill="#88888c"/>
<rect x="262.50" y="340.22" width="21.70" height="18.53" fill="#cac1c2"/>
<rect x="262.50" y="340.22" width="20.30" height="17.13" fill="#fef4f4"/>
<rect x="284.90" y="339.52" width="23.10" height="19.93" fill="#88888c"/>
<rect x="285.60" y="340.22" width="21.70" height="18.53" fill="#ab111a"/>
<rect x="285.60" y="340.22" width="20.30" height="17.13" fill="#ed1c24"/>
<rect x="238.70" y="359.45" width="23.10" height="19.93" fill="#88888c"/>
<rect x="239.40" y="360.15" width="21.70" height="18.53" fill="#cac1c2"/>
<rect x="239.40" y="360.15" width="20.30" height="17.13" fill="#fef4f4"/>
<rect x="261.80" y="359.45" width="23.10" height="19.93" fill="#8b8a99"/>
<rect x="262.50" y="360.15" width="21.70" height="18.53" fill="#adabc2"/>
<rect x="262.50" y="360.15" width="20.30" height="17.13" fill="#e3e2f2"/>
<rect x="284.90" y="359.45" width="23.10" height="19.93" fill="#88888c"/>
<rect x="285.60" y="360.15" width="21.70" height="18.53" fill="#b95b66"/>
<rect x="285.60" y="360.15" width="20.30" height="17.13" fill="#f58287"/>
<rect x="238.70" y="379.38" width="23.10" height="19.93" fill="#88888c"/>
<rect x="239.40" y="380.08" width="21.70" height="18.53" fill="#ab111a"/>
<rect x="239.40" y="380.08" width="20.30" height="17.13" fill="#ed1c24"/>
<rect x="261.80" y="379.38" width="23.10" height="19.93" fill="#88888c"/>
<rect x="262.50" y="380.08" width="21.70" height="18.53" fill="#b1303b"/>
<rect x="262.50" y="380.08" width="20.30" height="17.13" fill="#f14950"/>
<rect x="284.90" y="379.38" width="23.10" height="19.93" fill="#88888c"/>
<rect x="285.60" y="380.08" width="21.70" height="18.53" fill="#b4414c"/>
<rect x="285.60" y="380.08" width="20.30" height="17.13" fill="#f26066"/>
<rect x="238.70" y="399.31" width="23.10" height="19.93" fill="#8b8a99"/>
<rect x="239.40" y="400.01" width="21.70" height="18.53" fill="#adabc2"/>
<rect x="239.40" y="400.01" width="20.30" height="17.13" fill="#e3e2f2"/>
<rect x="261.80" y="399.31" width="23.10" height="19.93" fill="#8e8da9"/>
<rect x="262.50" y="400.01" width="21.70" height="18.53" fill="#8783b5"/>
<rect x="262.50" y="400.01" width="20.30" height="17.13" fill="#bebde0"/>
<rect x="284.90" y="399.31" width="23.10" height="19.93" fill="#88888c"/>
<rect x="285.60" y="400.01" width="21.70" height="18.53" fill="#ab111a"/>
<rect x="285.60" y="400.01" width="20.30" height="17.13" fill="#ed1c24"/>
<rect x="238.70" y="419.24" width="23.10" height="19.93" fill="#88888c"/>
<rect x="239.40" y="419.94" width="21.70" height="18.53" fill="#b8525d"/>
<rect x="239.40" y="419.94" width="20.30" height="17.13" fill="#f4777c"/>
<rect x="261.80" y="419.24" width="23.10" height="19.93" fill="#9491c4"/>
<rect x="262.50" y="419.94" width="21.70" height="18.53" fill="#2c2f8e"/>
<rect x="262.50" y="419.94" width="20.30" height="17.13" fill="#4d5bad"/>
<rect x="284.90" y="419.24" width="23.10" height="19.93" fill="#9491c4"/>
<rect x="285.60" y="419.94" width="21.70" height="18.53" fill="#2c2f8e"/>
<rect x="285.60" y="419.94" width="20.30" height="17.13" fill="#4d5bad"/>
<rect x="238.70" y="439.17" width="23.10" height="19.93" fill="#88888c"/>
<rect x="239.40" y="439.87" width="21.70" height="18.53" fill="#ab111a"/>
<rect x="239.40" y="439.87" width="20.30" height="17.13" fill="#ed1c24"/>
<rect x="261.80" y="439.17" width="23.10" height="19.93" fill="#88888c"/>
<rect x="262.50" y="439.87" width="21.70" height="18.53" fill="#b95b66"/>
<rect x="262.50" y="439.87" width="20.30" height="17.13" fill="#f58287"/>
<rect x="284.90" y="439.17" width="23.10" height="19.93" fill="#88888c"/>
<rect x="285.60" y="439.87" width="21.70" height="18.53" fill="#ab111a"/>
<rect x="285.60" y="439.87" width="20.30" height="17.13" fill="#ed1c24"/>
<rect x="238.70" y="459.10" width="23.10" height="19.93" fill="#9491c4"/>
<rect x="239.40" y="459.80" width="21.70" height="18.53" fill="#4d4b9d"/>
<rect x="239.40" y="459.80" width="20.30" height="17.13" fill="#7b7fc1"/>
<rect x="261.80" y="459.10" width="23.10" height="19.93" fill="#88888c"/>
<rect x="262.50" y="459.80" width="21.70" height="18.53" fill="#bb646f"/>
<rect x="262.50" y="459.80" width="20.30" height="17.13" fill="#f68e92"/>
<rect x="284.90" y="459.10" width="23.10" height="19.93" fill="#88888c"/>
<rect x="285.60" y="459.80" width="21.70" height="18.53" fill="#ab111a"/>
<rect x="285.60" y="459.80" width="20.30" height="17.13" fill="#ed1c24"/>
<rect x="238.70" y="479.03" width="23.10" height="19.93" fill="#88888c"/>
<rect x="239.40" y="479.73" width="21.70" height="18.53" fill="#bb646f"/>
<rect x="239.40" y="479.73" width="20.30" height="17.13" fill="#f68e92"/>
<rect x="261.80" y="479.03" width="23.10" height="19.93" fill="#88888c"/>
<rect x="262.50" y="479.73" width="21.70" height="18.53" fill="#b8525d"/>
<rect x="262.50" y="479.73" width="20.30" height="17.13" fill="#f4777c"/>
<rect x="284.90" y="479.03" width="23.10" height="19.93" fill="#88888c"/>
<rect x="285.60" y="479.73" width="21.70" height="18.53" fill="#ab111a"/>
<rect x="285.60" y="479.73" width="20.30" height="17.13" fill="#ed1c24"/>
<rect x="238.70" y="498.96" width="23.10" height="19.93" fill="#88888c"/>
<rect x="239.40" y="499.66" width="21.70" height="18.53" fill="#ab111a"/>
<rect x="239.40" y="499.66" width="20.30" height="17.13" fill="#ed1c24"/>
<rect x="261.80" y="498.96" width="23.10" height="19.93" fill="#88888c"/>
<rect x="262.50" y="499.66" width="21.70" height="18.53" fill="#af2832"/>
<rect x="262.50" y="499.66" width="20.30" height="17.13" fill="#f03e45"/>
<rect x="284.90" y="498.96" width="23.10" height="19.93" fill="#88888c"/>
<rect x="285.60" y="499.66" width="21.70" height="18.53" fill="#b33843"/>
<rect x="285.60" y="499.66" width="20.30" height="17.13" fill="#f2555b"/>
<rect x="238.70" y="518.89" width="23.10" height="19.93" fill="#88888c"/>
<rect x="239.40" y="519.59" width="21.70" height="18.53" fill="#ab111a"/>
<rect x="239.40" y="519.59" width="20.30" height="17.13" fill="#ed1c24"/>
<rect x="261.80" y="518.89" width="23.10" height="19.93" fill="#88888c"/>
<rect x="262.50" y="519.59" width="21.70" height="18.53" fill="#af2832"/>
<rect x="262.50" y="519.59" width="20.30" height="17.13" fill="#f03e45"/>
<rect x="284.90" y="518.89" width="23.10" height="19.93" fill="#88888c"/>
<rect x="285.60" y="519.59" width="21.70" height="18.53" fill="#b8525d"/>
<rect x="285.60" y="519.59" width="20.30" height="17.13" fill="#f4777c"/>
<rect x="238.70" y="538.82" width="23.10" height="19.93" fill="#88888c"/>
<rect x="239.40" y="539.52" width="21.70" height="18.53" fill="#c0818a"/>
<rect x="239.40" y="539.52" width="20.30" height="17.13" fill="#f9b0b2"/>
<rect x="261.80" y="538.82" width="23.10" height="19.93" fill="#8d8ca5"/>
<rect x="262.50" y="539.52" width="21.70" height="18.53" fill="#908db8"/>
<rect x="262.50" y="539.52" width="20.30" height="17.13" fill="#c7c6e5"/>
<rect x="284.90" y="538.82" width="23.10" height="19.93" fill="#8c8ba1"/>
<rect x="285.60" y="539.52" width="21.70" height="18.53" fill="#9a96bc"/>
<rect x="285.60" y="539.52" width="20.30" height="17.13" fill="#d0cfe9"/>
<rect x="238.70" y="558.75" width="23.10" height="19.93" fill="#8a8994"/>
<rect x="239.40" y="559.45" width="21.70" height="18.53" fill="#b7b5c5"/>
<rect x="239.40" y="559.45" width="20.30" height="17.13" fill="#ececf6"/>
<rect x="261.80" y="558.75" width="23.10" height="19.93" fill="#88888c"/>
<rect x="262.50" y="559.45" width="21.70" height="18.53" fill="#cac1c2"/>
<rect x="262.50" y="559.45" width="20.30" height="17.13" fill="#fef4f4"/>
<rect x="284.90" y="558.75" width="23.10" height="19.93" fill="#88888c"/>
<rect x="285.60" y="559.45" width="21.70" height="18.53" fill="#ab111a"/>
<rect x="285.60" y="559.45" width="20.30" height="17.13" fill="#ed1c24"/>
<rect x="238.70" y="578.68" width="23.10" height="19.93" fill="#9491c4"/>
<rect x="239.40" y="579.38" width="21.70" height="18.53" fill="#3b3b95"/>
<rect x="239.40" y="579.38" width="20.30" height="17.13" fill="#636bb6"/>
<rect x="261.80" y="578.68" width="23.10" height="19.93" fill="#88888c"/>
<rect x="262.50" y="579.38" width="21.70" height="18.53" fill="#c9b6b9"/>
<rect x="262.50" y="579.38" width="20.30" height="17.13" fill="#fde8e9"/>
<rect x="284.90" y="578.68" width="23.10" height="19.93" fill="#88888c"/>
<rect x="285.60" y="579.38" width="21.70" height="18.53" fill="#ab111a"/>
<rect x="285.60" y="579.38" width="20.30" height="17.13" fill="#ed1c24"/>
<rect x="238.70" y="598.61" width="23.10" height="19.93" fill="#9491c4"/>
<rect x="239.40" y="599.31" width="21.70" height="18.53" fill="#3e3e96"/>
<rect x="239.40" y="599.31" width="20.30" height="17.13" fill="#676eb8"/>
<rect x="261.80" y="598.61" width="23.10" height="19.93" fill="#88888c"/>
<rect x="262.50" y="599.31" width="21.70" height="18.53" fill="#b4414c"/>
<rect x="262.50" y="599.31" width="20.30" height="17.13" fill="#f26066"/>
<rect x="284.90" y="598.61" width="23.10" height="19.93" fill="#88888c"/>
<rect x="285.60" y="599.31" width="21.70" height="18.53" fill="#ab111a"/>
<rect x="285.60" y="599.31" width="20.30" height="17.13" fill="#ed1c24"/>
<rect x="238.70" y="618.54" width="23.10" height="19.93" fill="#88888c"/>
<rect x="239.40" y="619.24" width="21.70" height="18.53" fill="#c9babc"/>
<rect x="239.40" y="619.24" width="20.30" height="17.13" fill="#feeded"/>
<rect x="261.80" y="618.54" width="23.10" height="19.93" fill="#9491c4"/>
<rect x="262.50" y="619.24" width="21.70" height="18.53" fill="#1f2788"/>
<rect x="262.50" y="619.24" width="20.30" height="17.13" fill="#394ea6"/>
<rect x="284.90" y="618.54" width="23.10" height="19.93" fill="#908eb2"/>
<rect x="285.60" y="619.24" width="21.70" height="18.53" fill="#7671ae"/>
<rect x="285.60" y="619.24" width="20.30" height="17.13" fill="#ababd7"/>
<rect x="238.70" y="638.47" width="23.10" height="19.93" fill="#88888c"/>
<rect x="239.40" y="639.17" width="21.70" height="18.53" fill="#b95b66"/>
<rect x="239.40" y="639.17" width="20.30" height="17.13" fill="#f58287"/>
<rect x="261.80" y="638.47" width="23.10" height="19.93" fill="#88888c"/>
<rect x="262.50" y="639.17" width="21.70" height="18.53" fill="#b95b66"/>
<rect x="262.50" y="639.17" width="20.30" height="17.13" fill="#f58287"/>
<rect x="284.90" y="638.47" width="23.10" height="19.93" fill="#88888c"/>
<rect x="285.60" y="639.17" width="21.70" height="18.53" fill="#ab111a"/>
<rect x="285.60" y="639.17" width="20.30" height="17.13" fill="#ed1c24"/>
<rect x="238.70" y="658.40" width="23.10" height="19.93" fill="#88888c"/>
<rect x="239.40" y="659.10" width="21.70" height="18.53" fill="#bd6e78"/>
<rect x="239.40" y="659.10" width="20.30" height="17.13" fill="#f7999c"/>
<rect x="261.80" y="658.40" width="23.10" height="19.93" fill="#88888c"/>
<rect x="262.50" y="659.10" width="21.70" height="18.53" fill="#b95b66"/>
<rect x="262.50" y="659.10" width="20.30" height="17.13" fill="#f58287"/>
<rect x="284.90" y="658.40" width="23.10" height="19.93" fill="#88888c"/>
<rect x="285.60" y="659.10" width="21.70" height="18.53" fill="#ab111a"/>
<rect x="285.60" y="659.10" width="20.30" height="17.13" fill="#ed1c24"/>
<rect x="238.70" y="678.33" width="23.10" height="19.93" fill="#88888c"/>
<rect x="239.40" y="679.03" width="21.70" height="18.53" fill="#cac1c2"/>
<rect x="239.40" y="679.03" width="20.30" height="17.13" fill="#fef4f4"/>
<rect x="261.80" y="678.33" width="23.10" height="19.93" fill="#918fb6"/>
<rect x="262.50" y="679.03" width="21.70" height="18.53" fill="#6d69ab"/>
<rect x="262.50" y="679.03" width="20.30" height="17.13" fill="#a2a2d3"/>
<rect x="284.90" y="678.33" width="23.10" height="19.93" fill="#8a8994"/>
<rect x="285.60" y="679.03" width="21.70" height="18.53" fill="#b7b5c5"/>
<rect x="285.60" y="679.03" width="20.30" height="17.13" fill="#ececf6"/>
<rect x="238.70" y="698.26" width="23.10" height="19.93" fill="#9491c4"/>
<rect x="239.40" y="698.96" width="21.70" height="18.53" fill="#1f2788"/>
<rect x="239.40" y="698.96" width="20.30" height="17.13" fill="#394ea6"/>
<rect x="261.80" y="698.26" width="23.10" height="19.93" fill="#88888c"/>
<rect x="262.50" y="698.96" width="21.70" height="18.53" fill="#af2832"/>
<rect x="262.50" y="698.96" width="20.30" height="17.13" fill="#f03e45"/>
<rect x="284.90" y="698.26" width="23.10" height="19.93" fill="#88888c"/>
<rect x="285.60" y="698.96" width="21.70" height="18.53" fill="#b4414c"/>
<rect x="285.60" y="698.96" width="20.30" height="17.13" fill="#f26066"/>
<rect x="238.70" y="718.19" width="23.10" height="19.93" fill="#88888c"/>
<rect x="239.40" y="718.89" width="21.70" height="18.53" fill="#b8525d"/>
<rect x="239.40" y="718.89" width="20.30" height="17.13" fill="#f4777c"/>
<rect x="261.80" y="718.19" width="23.10" height="19.93" fill="#88888c"/>
<rect x="262.50" y="718.89" width="21.70" height="18.53" fill="#bd6e78"/>
<rect x="262.50" y="718.89" width="20.30" height="17.13" fill="#f7999c"/>
<rect x="284.90" y="718.19" width="23.10" height="19.93" fill="#88888c"/>
<rect x="285.60" y="718.89" width="21.70" height="18.53" fill="#ab111a"/>
<rect x="285.60" y="718.89" width="20.30" height="17.13" fill="#ed1c24"/>
<rect x="238.70" y="738.12" width="23.10" height="19.93" fill="#88888c"/>
<rect x="239.40" y="738.82" width="21.70" height="18.53" fill="#b8525d"/>
<rect x="239.40" y="738.82" width="20.30" height="17.13" fill="#f4777c"/>
<rect x="261.80" y="738.12" width="23.10" height="19.93" fill="#88888c"/>
<rect x="262.50" y="738.82" width="21.70" height="18.53" fill="#c9b6b9"/>
<rect x="262.50" y="738.82" width="20.30" height="17.13" fill="#fde8e9"/>
<rect x="284.90" y="738.12" width="23.10" height="19.93" fill="#88888c"/>
<rect x="285.60" y="738.82" width="21.70" height="18.53" fill="#ab111a"/>
<rect x="285.60" y="738.82" width="20.30" height="17.13" fill="#ed1c24"/>
<rect x="238.70" y="758.05" width="23.10" height="19.93" fill="#88888c"/>
<rect x="239.40" y="758.75" width="21.70" height="18.53" fill="#bd6e78"/>
<rect x="239.40" y="758.75" width="20.30" height="17.13" fill="#f7999c"/>
<rect x="261.80" y="758.05" width="23.10" height="19.93" fill="#8c8b9d"/>
<rect x="262.50" y="758.75" width="21.70" height="18.53" fill="#a3a0bf"/>
<rect x="262.50" y="758.75" width="20.30" height="17.13" fill="#dad9ed"/>
<rect x="284.90" y="758.05" width="23.10" height="19.93" fill="#88888c"/>
<rect x="285.60" y="758.75" width="21.70" height="18.53" fill="#ab111a"/>
<rect x="285.60" y="758.75" width="20.30" height="17.13" fill="#ed1c24"/>
<rect x="238.70" y="777.98" width="23.10" height="19.93" fill="#88888c"/>
<rect x="239.40" y="778.68" width="21.70" height="18.53" fill="#be7881"/>
<rect x="239.40" y="778.68" width="20.30" height="17.13" fill="#f8a4a7"/>
<rect x="261.80" y="777.98" width="23.10" height="19.93" fill="#88888c"/>
<rect x="262.50" y="778.68" width="21.70" height="18.53" fill="#cccccc"/>
<rect x="262.50" y="778.68" width="20.30" height="17.13" fill="#ffffff"/>
<rect x="284.90" y="777.98" width="23.10" height="19.93" fill="#88888c"/>
<rect x="285.60" y="778.68" width="21.70" height="18.53" fill="#ab111a"/>
<rect x="285.60" y="778.68" width="20.30" height="17.13" fill="#ed1c24"/>
<rect x="238.70" y="797.91" width="23.10" height="19.93" fill="#88888c"/>
<rect x="239.40" y="798.61" width="21.70" height="18.53" fill="#bd6e78"/>
<rect x="239.40" y="798.61" width="20.30" height="17.13" fill="#f7999c"/>
<rect x="261.80" y="797.91" width="23.10" height="19.93" fill="#88888c"/>
<rect x="262.50" y="798.61" width="21.70" height="18.53" fill="#cccccc"/>
<rect x="262.50" y="798.61" width="20.30" height="17.13" fill="#ffffff"/>
<rect x="284.90" y="797.91" width="23.10" height="19.93" fill="#88888c"/>
<rect x="285.60" y="798.61" width="21.70" height="18.53" fill="#ab111a"/>
<rect x="285.60" y="798.61" width="20.30" height="17.13" fill="#ed1c24"/>
<rect x="238.70" y="817.84" width="23.10" height="19.93" fill="#88888c"/>
<rect x="239.40" y="818.54" width="21.70" height="18.53" fill="#be7881"/>
<rect x="239.40" y="818.54" width="20.30" height="17.13" fill="#f8a4a7"/>
<rect x="261.80" y="817.84" width="23.10" height="19.93" fill="#88888c"/>
<rect x="262.50" y="818.54" width="21.70" height="18.53" fill="#ac1922"/>
<rect x="262.50" y="818.54" width="20.30" height="17.13" fill="#ee272f"/>
<rect x="284.90" y="817.84" width="23.10" height="19.93" fill="#88888c"/>
<rect x="285.60" y="818.54" width="21.70" height="18.53" fill="#ab111a"/>
<rect x="285.60" y="818.54" width="20.30" height="17.13" fill="#ed1c24"/>
<rect x="238.70" y="837.77" width="23.10" height="19.93" fill="#88888c"/>
<rect x="239.40" y="838.47" width="21.70" height="18.53" fill="#ab111a"/>
<rect x="239.40" y="838.47" width="20.30" height="17.13" fill="#ed1c24"/>
<rect x="261.80" y="837.77" width="23.10" height="19.93" fill="#88888c"/>
<rect x="262.50" y="838.47" width="21.70" height="18.53" fill="#c0818a"/>
<rect x="262.50" y="838.47" width="20.30" height="17.13" fill="#f9b0b2"/>
<rect x="284.90" y="837.77" width="23.10" height="19.93" fill="#88888c"/>
<rect x="285.60" y="838.47" width="21.70" height="18.53" fill="#b95b66"/>
<rect x="285.60" y="838.47" width="20.30" height="17.13" fill="#f58287"/>
<rect x="238.70" y="857.70" width="23.10" height="19.93" fill="#88888c"/>
<rect x="239.40" y="858.40" width="21.70" height="18.53" fill="#af2832"/>
<rect x="239.40" y="858.40" width="20.30" height="17.13" fill="#f03e45"/>
<rect x="261.80" y="857.70" width="23.10" height="19.93" fill="#88888c"/>
<rect x="262.50" y="858.40" width="21.70" height="18.53" fill="#c0818a"/>
<rect x="262.50" y="858.40" width="20.30" height="17.13" fill="#f9b0b2"/>
<rect x="284.90" y="857.70" width="23.10" height="19.93" fill="#88888c"/>
<rect x="285.60" y="858.40" width="21.70" height="18.53" fill="#ab111a"/>
<rect x="285.60" y="858.40" width="20.30" height="17.13" fill="#ed1c24"/>
<rect x="238.70" y="877.63" width="23.10" height="19.93" fill="#88888c"/>
<rect x="239.40" y="878.33" width="21.70" height="18.53" fill="#bb646f"/>
<rect x="239.40" y="878.33" width="20.30" height="17.13" fill="#f68e92"/>
<rect x="261.80" y="877.63" width="23.10" height="19.93" fill="#88888c"/>
<rect x="262.50" y="878.33" width="21.70" height="18.53" fill="#af2832"/>
<rect x="262.50" y="878.33" width="20.30" height="17.13" fill="#f03e45"/>
<rect x="284.90" y="877.63" width="23.10" height="19.93" fill="#88888c"/>
<rect x="285.60" y="878.33" width="21.70" height="18.53" fill="#ab111a"/>
<rect x="285.60" y="878.33" width="20.30" height="17.13" fill="#ed1c24"/>
<rect x="238.70" y="897.56" width="23.10" height="19.93" fill="#88888c"/>
<rect x="239.40" y="898.26" width="21.70" height="18.53" fill="#cac1c2"/>
<rect x="239.40" y="898.26" width="20.30" height="17.13" fill="#fef4f4"/>
<rect x="261.80" y="897.56" width="23.10" height="19.93" fill="#88888c"/>
<rect x="262.50" y="898.26" width="21.70" height="18.53" fill="#b33843"/>
<rect x="262.50" y="898.26" width="20.30" height="17.13" fill="#f2555b"/>
<rect x="284.90" y="897.56" width="23.10" height="19.93" fill="#9491c4"/>
<rect x="285.60" y="898.26" width="21.70" height="18.53" fill="#1f2788"/>
<rect x="285.60" y="898.26" width="20.30" height="17.13" fill="#394ea6"/>
<rect x="238.70" y="917.49" width="23.10" height="19.93" fill="#8a8994"/>
<rect x="239.40" y="918.19" width="21.70" height="18.53" fill="#b7b5c5"/>
<rect x="239.40" y="918.19" width="20.30" height="17.13" fill="#ececf6"/>
<rect x="261.80" y="917.49" width="23.10" height="19.93" fill="#88888c"/>
<rect x="262.50" y="918.19" width="21.70" height="18.53" fill="#ab111a"/>
<rect x="262.50" y="918.19" width="20.30" height="17.13" fill="#ed1c24"/>
<rect x="284.90" y="917.49" width="23.10" height="19.93" fill="#9491c4"/>
<rect x="285.60" y="918.19" width="21.70" height="18.53" fill="#1f2788"/>
<rect x="285.60" y="918.19" width="20.30" height="17.13" fill="#394ea6"/>
<rect x="238.70" y="937.42" width="23.10" height="19.93" fill="#88888c"/>
<rect x="239.40" y="938.12" width="21.70" height="18.53" fill="#ab111a"/>
<rect x="239.40" y="938.12" width="20.30" height="17.13" fill="#ed1c24"/>
<rect x="261.80" y="937.42" width="23.10" height="19.93" fill="#88888c"/>
<rect x="262.50" y="938.12" width="21.70" height="18.53" fill="#c8b1b5"/>
<rect x="262.50" y="938.12" width="20.30" height="17.13" fill="#fde4e5"/>
<rect x="284.90" y="937.42" width="23.10" height="19.93" fill="#9491c4"/>
<rect x="285.60" y="938.12" width="21.70" height="18.53" fill="#1f2788"/>
<rect x="285.60" y="938.12" width="20.30" height="17.13" fill="#394ea6"/>
<rect x="238.70" y="957.35" width="23.10" height="19.93" fill="#88888c"/>
<rect x="239.40" y="958.05" width="21.70" height="18.53" fill="#ab111a"/>
<rect x="239.40" y="958.05" width="20.30" height="17.13" fill="#ed1c24"/>
<rect x="261.80" y="957.35" width="23.10" height="19.93" fill="#88888c"/>
<rect x="262.50" y="958.05" width="21.70" height="18.53" fill="#c7abaf"/>
<rect x="262.50" y="958.05" width="20.30" height="17.13" fill="#fcddde"/>
<rect x="284.90" y="957.35" width="23.10" height="19.93" fill="#9491c4"/>
<rect x="285.60" y="958.05" width="21.70" height="18.53" fill="#2c2f8e"/>
<rect x="285.60" y="958.05" width="20.30" height="17.13" fill="#4d5bad"/>
<rect x="238.70" y="977.28" width="23.10" height="19.93" fill="#88888c"/>
<rect x="239.40" y="977.98" width="21.70" height="18.53" fill="#ab111a"/>
<rect x="239.40" y="977.98" width="20.30" height="17.13" fill="#ed1c24"/>
<rect x="261.80" y="977.28" width="23.10" height="19.93" fill="#88888c"/>
<rect x="262.50" y="977.98" width="21.70" height="18.53" fill="#c28b93"/>
<rect x="262.50" y="977.98" width="20.30" height="17.13" fill="#fabbbd"/>
<rect x="284.90" y="977.28" width="23.10" height="19.93" fill="#9491c4"/>
<rect x="285.60" y="977.98" width="21.70" height="18.53" fill="#2f328f"/>
<rect x="285.60" y="977.98" width="20.30" height="17.13" fill="#525eaf"/>
<rect x="238.70" y="997.21" width="23.10" height="19.93" fill="#88888c"/>
<rect x="239.40" y="997.91" width="21.70" height="18.53" fill="#ab111a"/>
<rect x="239.40" y="997.91" width="20.30" height="17.13" fill="#ed1c24"/>
<rect x="261.80" y="997.21" width="23.10" height="19.93" fill="#88888c"/>
<rect x="262.50" y="997.91" width="21.70" height="18.53" fill="#cac1c2"/>
<rect x="262.50" y="997.91" width="20.30" height="17.13" fill="#fef4f4"/>
<rect x="284.90" y="997.21" width="23.10" height="19.93" fill="#9390be"/>
<rect x="285.60" y="997.91" width="21.70" height="18.53" fill="#5d59a4"/>
<rect x="285.60" y="997.91" width="20.30" height="17.13" fill="#8f90ca"/>
<rect x="238.70" y="1017.14" width="23.10" height="19.93" fill="#88888c"/>
<rect x="239.40" y="1017.84" width="21.70" height="18.53" fill="#ab111a"/>
<rect x="239.40" y="1017.84" width="20.30" height="17.13" fill="#ed1c24"/>
<rect x="261.80" y="1017.14" width="23.10" height="19.93" fill="#88888c"/>
<rect x="262.50" y="1017.84" width="21.70" height="18.53" fill="#bb646f"/>
<rect x="262.50" y="1017.84" width="20.30" height="17.13" fill="#f68e92"/>
<rect x="284.90" y="1017.14" width="23.10" height="19.93" fill="#8f8dae"/>
<rect x="285.60" y="1017.84" width="21.70" height="18.53" fill="#7e7ab2"/>
<rect x="285.60" y="1017.84" width="20.30" height="17.13" fill="#b4b4dc"/>
<rect x="238.70" y="1037.07" width="23.10" height="19.93" fill="#88888c"/>
<rect x="239.40" y="1037.77" width="21.70" height="18.53" fill="#ab111a"/>
<rect x="239.40" y="1037.77" width="20.30" height="17.13" fill="#ed1c24"/>
<rect x="261.80" y="1037.07" width="23.10" height="19.93" fill="#8c8b9d"/>
<rect x="262.50" y="1037.77" width="21.70" height="18.53" fill="#a3a0bf"/>
<rect x="262.50" y="1037.77" width="20.30" height="17.13" fill="#dad9ed"/>
<rect x="284.90" y="1037.07" width="23.10" height="19.93" fill="#908eb2"/>
<rect x="285.60" y="1037.77" width="21.70" height="18.53" fill="#7671ae"/>
<rect x="285.60" y="1037.77" width="20.30" height="17.13" fill="#ababd7"/>
<rect x="238.70" y="1057.00" width="23.10" height="19.93" fill="#88888c"/>
<rect x="239.40" y="1057.70" width="21.70" height="18.53" fill="#ab111a"/>
<rect x="239.40" y="1057.70" width="20.30" height="17.13" fill="#ed1c24"/>
<rect x="261.80" y="1057.00" width="23.10" height="19.93" fill="#88888c"/>
<rect x="262.50" y="1057.70" width="21.70" height="18.53" fill="#b4414c"/>
<rect x="262.50" y="1057.70" width="20.30" height="17.13" fill="#f26066"/>
<rect x="284.90" y="1057.00" width="23.10" height="19.93" fill="#8a8994"/>
<rect x="285.60" y="1057.70" width="21.70" height="18.53" fill="#b7b5c5"/>
<rect x="285.60" y="1057.70" width="20.30" height="17.13" fill="#ececf6"/>
<rect x="238.70" y="1076.93" width="23.10" height="19.93" fill="#88888c"/>
<rect x="239.40" y="1077.63" width="21.70" height="18.53" fill="#ab111a"/>
<rect x="239.40" y="1077.63" width="20.30" height="17.13" fill="#ed1c24"/>
<rect x="261.80" y="1076.93" width="23.10" height="19.93" fill="#9491c3"/>
<rect x="262.50" y="1077.63" width="21.70" height="18.53" fill="#5552a1"/>
<rect x="262.50" y="1077.63" width="20.30" height="17.13" fill="#8587c5"/>
<rect x="284.90" y="1076.93" width="23.10" height="19.93" fill="#9491c4"/>
<rect x="285.60" y="1077.63" width="21.70" height="18.53" fill="#4d4b9d"/>
<rect x="285.60" y="1077.63" width="20.30" height="17.13" fill="#7b7fc1"/>
</g>
<g font-size="14" fill="#000" stroke="#000" stroke-width="0.25">
<text x="312.8" y="71.70">alanine</text>
<text x="312.8" y="92.10">arginine</text>
<text x="312.8" y="112.50">asparagine</text>
<text x="312.8" y="132.90">aspartate</text>
<text x="312.8" y="153.30">cysteine</text>
<text x="312.8" y="173.70">glutamate</text>
<text x="312.8" y="194.10">glutamine</text>
<text x="312.8" y="214.50">glycine</text>
<text x="312.8" y="234.90">histidine</text>
<text x="312.8" y="255.30">leucine</text>
<text x="312.8" y="275.70">lysine</text>
<text x="312.8" y="296.10">methionine</text>
<text x="312.8" y="316.50">phenylalanine</text>
<text x="312.8" y="336.90">proline</text>
<text x="312.8" y="357.30">serine</text>
<text x="312.8" y="377.70">tryptophan</text>
<text x="312.8" y="398.10">tyrosine</text>
<text x="312.8" y="418.50">valine</text>
<text x="312.8" y="438.90">D-Glucose</text>
<text x="312.8" y="459.30">D-Glucose 6-phosphate</text>
<text x="312.8" y="479.70">D-Fructose 1-6-bisphosphate</text>
<text x="312.8" y="500.10">D-Glyceraldehyde 3-phosphate</text>
<text x="312.8" y="520.50">2/3-Phospho-D-glycerate</text>
<text x="312.8" y="540.90">Phosphoenolpyruvate</text>
<text x="312.8" y="561.30">Pyruvate</text>
<text x="312.8" y="581.70">Lactate</text>
<text x="312.8" y="602.10">Citrate</text>
<text x="312.8" y="622.50">2-Oxoglutarate</text>
<text x="312.8" y="642.90">Succinate</text>
<text x="312.8" y="663.30">Fumarate</text>
<text x="312.8" y="683.70">Malate</text>
<text x="312.8" y="704.10">Itaconate</text>
<text x="312.8" y="724.50">2-Hydroxyglutarate</text>
<text x="312.8" y="744.90">Hexanoic acid</text>
<text x="312.8" y="765.30">Octanoic acid</text>
<text x="312.8" y="785.70">Nonanoic acid</text>
<text x="312.8" y="806.10">Decanoic acid</text>
<text x="312.8" y="826.50">Dodecanoic acid</text>
<text x="312.8" y="846.90">Tetradecanoic acid</text>
<text x="312.8" y="867.30">Hexadecanoic acid</text>
<text x="312.8" y="887.70">Octadecanoic acid</text>
<text x="312.8" y="908.10">Tetradecenoic acid</text>
<text x="312.8" y="928.50">Hexadecenoic acid</text>
<text x="312.8" y="948.90">Octadecenoic acid</text>
<text x="312.8" y="969.30">Linoleate</text>
<text x="312.8" y="989.70">Octadecatrienoic acid</text>
<text x="312.8" y="1010.10">Eicosatetraenoic acid</text>
<text x="312.8" y="1030.50">Eicosapentaenoic acid</text>
<text x="312.8" y="1050.90">Docosahexaenoic acid</text>
<text x="312.8" y="1071.30">Icosatrienoic acid</text>
<text x="312.8" y="1091.70">Docosapentaenoic acid</text>
</g>
<g fill="#000">
<rect x="56.2" y="66" width="2" height="322.3"/>
<rect x="56.2" y="412.3" width="2" height="143.7"/>
<rect x="56.2" y="576.9" width="2" height="123.5"/>
<rect x="56.2" y="721.2" width="2" height="356.6"/>
</g>
<g font-size="14" fill="#000" stroke="#000" stroke-width="0.25" text-anchor="middle">
<text transform="translate(50,222.6) rotate(-90)" textLength="77.6" lengthAdjust="spacingAndGlyphs">Amino Acids</text>
<text transform="translate(50,486.3) rotate(-90)" textLength="60.4" lengthAdjust="spacingAndGlyphs">Glycolysis</text>
<text transform="translate(50,639) rotate(-90)" textLength="28.3" lengthAdjust="spacingAndGlyphs">TCA</text>
<text transform="translate(50,886.8) rotate(-90)" textLength="69.2" lengthAdjust="spacingAndGlyphs">Fatty Acids</text>
</g>
<rect x="387" y="86.5" width="91" height="93.5" fill="#c2d3df"/>
<rect x="394.2" y="90.2" width="16" height="85.6" fill="#dbe8f0"/>
<rect x="396" y="92" width="12.4" height="82" fill="url(#lg)" stroke="#000" stroke-width="1.6"/>
<g font-size="14" fill="#000" stroke="#000" stroke-width="0.25">
<text x="425.7" y="113.5">Max</text>
<text x="425.7" y="158.5">Min</text>
</g>
</svg>
</body></html>
